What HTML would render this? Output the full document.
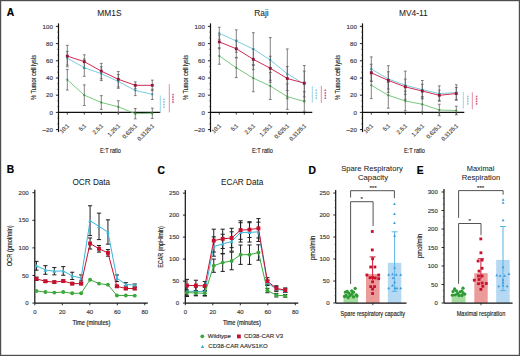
<!DOCTYPE html>
<html><head><meta charset="utf-8"><style>
html,body{margin:0;padding:0;background:#fff;}
#c{position:relative;width:520px;height:356px;overflow:hidden;}
svg{display:block;font-family:"Liberation Sans", sans-serif;}
</style></head><body><div id="c">
<svg width="520" height="356" viewBox="0 0 520 356">
<rect x="0" y="0" width="520" height="356" fill="#fff"/>
<text x="109.40" y="16.00" font-size="8.4" text-anchor="middle" fill="#222" stroke="#222" stroke-width="0.05">MM1S</text>
<line x1="58.50" y1="132.10" x2="58.50" y2="23.40" stroke="#111" stroke-width="1.2"/>
<line x1="55.90" y1="129.60" x2="58.50" y2="129.60" stroke="#111" stroke-width="0.9"/>
<text x="52.90" y="131.80" font-size="6.2" text-anchor="end" fill="#3a3a3a" stroke="#3a3a3a" stroke-width="0.15">&#8211;20</text>
<line x1="57.30" y1="123.87" x2="58.50" y2="123.87" stroke="#222" stroke-width="0.6"/>
<line x1="57.30" y1="118.13" x2="58.50" y2="118.13" stroke="#222" stroke-width="0.6"/>
<line x1="55.90" y1="112.40" x2="58.50" y2="112.40" stroke="#111" stroke-width="0.9"/>
<text x="52.90" y="114.60" font-size="6.2" text-anchor="end" fill="#3a3a3a" stroke="#3a3a3a" stroke-width="0.15">0</text>
<line x1="57.30" y1="106.67" x2="58.50" y2="106.67" stroke="#222" stroke-width="0.6"/>
<line x1="57.30" y1="100.93" x2="58.50" y2="100.93" stroke="#222" stroke-width="0.6"/>
<line x1="55.90" y1="95.20" x2="58.50" y2="95.20" stroke="#111" stroke-width="0.9"/>
<text x="52.90" y="97.40" font-size="6.2" text-anchor="end" fill="#3a3a3a" stroke="#3a3a3a" stroke-width="0.15">20</text>
<line x1="57.30" y1="89.47" x2="58.50" y2="89.47" stroke="#222" stroke-width="0.6"/>
<line x1="57.30" y1="83.73" x2="58.50" y2="83.73" stroke="#222" stroke-width="0.6"/>
<line x1="55.90" y1="78.00" x2="58.50" y2="78.00" stroke="#111" stroke-width="0.9"/>
<text x="52.90" y="80.20" font-size="6.2" text-anchor="end" fill="#3a3a3a" stroke="#3a3a3a" stroke-width="0.15">40</text>
<line x1="57.30" y1="72.27" x2="58.50" y2="72.27" stroke="#222" stroke-width="0.6"/>
<line x1="57.30" y1="66.53" x2="58.50" y2="66.53" stroke="#222" stroke-width="0.6"/>
<line x1="55.90" y1="60.80" x2="58.50" y2="60.80" stroke="#111" stroke-width="0.9"/>
<text x="52.90" y="63.00" font-size="6.2" text-anchor="end" fill="#3a3a3a" stroke="#3a3a3a" stroke-width="0.15">60</text>
<line x1="57.30" y1="55.07" x2="58.50" y2="55.07" stroke="#222" stroke-width="0.6"/>
<line x1="57.30" y1="49.33" x2="58.50" y2="49.33" stroke="#222" stroke-width="0.6"/>
<line x1="55.90" y1="43.60" x2="58.50" y2="43.60" stroke="#111" stroke-width="0.9"/>
<text x="52.90" y="45.80" font-size="6.2" text-anchor="end" fill="#3a3a3a" stroke="#3a3a3a" stroke-width="0.15">80</text>
<line x1="57.30" y1="37.87" x2="58.50" y2="37.87" stroke="#222" stroke-width="0.6"/>
<line x1="57.30" y1="32.13" x2="58.50" y2="32.13" stroke="#222" stroke-width="0.6"/>
<line x1="55.90" y1="26.40" x2="58.50" y2="26.40" stroke="#111" stroke-width="0.9"/>
<text x="52.90" y="28.60" font-size="6.2" text-anchor="end" fill="#3a3a3a" stroke="#3a3a3a" stroke-width="0.15">100</text>
<text x="36.30" y="77.50" font-size="7" text-anchor="middle" fill="#1a1a1a" textLength="45" lengthAdjust="spacingAndGlyphs" transform="rotate(-90 36.30 77.50)" stroke="#1a1a1a" stroke-width="0.15">% Tumor cell lysis</text>
<line x1="58.50" y1="112.40" x2="160.30" y2="112.40" stroke="#111" stroke-width="1.2"/>
<line x1="67.30" y1="112.40" x2="67.30" y2="114.60" stroke="#111" stroke-width="0.8"/>
<text x="69.60" y="126.30" font-size="6.0" text-anchor="end" fill="#3a3a3a" textLength="10.51" lengthAdjust="spacingAndGlyphs" transform="rotate(-45 69.60 126.30)" stroke="#3a3a3a" stroke-width="0.15">10:1</text>
<line x1="84.30" y1="112.40" x2="84.30" y2="114.60" stroke="#111" stroke-width="0.8"/>
<text x="86.60" y="126.30" font-size="6.0" text-anchor="end" fill="#3a3a3a" textLength="7.51" lengthAdjust="spacingAndGlyphs" transform="rotate(-45 86.60 126.30)" stroke="#3a3a3a" stroke-width="0.15">5:1</text>
<line x1="101.30" y1="112.40" x2="101.30" y2="114.60" stroke="#111" stroke-width="0.8"/>
<text x="103.60" y="126.30" font-size="6.0" text-anchor="end" fill="#3a3a3a" textLength="12.01" lengthAdjust="spacingAndGlyphs" transform="rotate(-45 103.60 126.30)" stroke="#3a3a3a" stroke-width="0.15">2.5:1</text>
<line x1="118.30" y1="112.40" x2="118.30" y2="114.60" stroke="#111" stroke-width="0.8"/>
<text x="120.60" y="126.30" font-size="6.0" text-anchor="end" fill="#3a3a3a" textLength="15.01" lengthAdjust="spacingAndGlyphs" transform="rotate(-45 120.60 126.30)" stroke="#3a3a3a" stroke-width="0.15">1.25:1</text>
<line x1="135.30" y1="112.40" x2="135.30" y2="114.60" stroke="#111" stroke-width="0.8"/>
<text x="137.60" y="126.30" font-size="6.0" text-anchor="end" fill="#3a3a3a" textLength="18.01" lengthAdjust="spacingAndGlyphs" transform="rotate(-45 137.60 126.30)" stroke="#3a3a3a" stroke-width="0.15">0.625:1</text>
<line x1="152.30" y1="112.40" x2="152.30" y2="114.60" stroke="#111" stroke-width="0.8"/>
<text x="154.60" y="126.30" font-size="6.0" text-anchor="end" fill="#3a3a3a" textLength="21.02" lengthAdjust="spacingAndGlyphs" transform="rotate(-45 154.60 126.30)" stroke="#3a3a3a" stroke-width="0.15">0.3125:1</text>
<text x="110.40" y="152.90" font-size="7.6" text-anchor="middle" fill="#1a1a1a" textLength="21" lengthAdjust="spacingAndGlyphs" stroke="#1a1a1a" stroke-width="0.15">E:T ratio</text>
<line x1="67.30" y1="45.32" x2="67.30" y2="66.82" stroke="#5a5a5a" stroke-width="0.75"/>
<line x1="65.90" y1="45.32" x2="68.70" y2="45.32" stroke="#5a5a5a" stroke-width="0.75"/>
<line x1="65.90" y1="66.82" x2="68.70" y2="66.82" stroke="#5a5a5a" stroke-width="0.75"/>
<line x1="67.30" y1="51.34" x2="67.30" y2="65.10" stroke="#5a5a5a" stroke-width="0.75"/>
<line x1="65.90" y1="51.34" x2="68.70" y2="51.34" stroke="#5a5a5a" stroke-width="0.75"/>
<line x1="65.90" y1="65.10" x2="68.70" y2="65.10" stroke="#5a5a5a" stroke-width="0.75"/>
<line x1="67.30" y1="69.40" x2="67.30" y2="90.04" stroke="#5a5a5a" stroke-width="0.75"/>
<line x1="65.90" y1="69.40" x2="68.70" y2="69.40" stroke="#5a5a5a" stroke-width="0.75"/>
<line x1="65.90" y1="90.04" x2="68.70" y2="90.04" stroke="#5a5a5a" stroke-width="0.75"/>
<line x1="84.30" y1="54.78" x2="84.30" y2="68.54" stroke="#5a5a5a" stroke-width="0.75"/>
<line x1="82.90" y1="54.78" x2="85.70" y2="54.78" stroke="#5a5a5a" stroke-width="0.75"/>
<line x1="82.90" y1="68.54" x2="85.70" y2="68.54" stroke="#5a5a5a" stroke-width="0.75"/>
<line x1="84.30" y1="59.08" x2="84.30" y2="76.28" stroke="#5a5a5a" stroke-width="0.75"/>
<line x1="82.90" y1="59.08" x2="85.70" y2="59.08" stroke="#5a5a5a" stroke-width="0.75"/>
<line x1="82.90" y1="76.28" x2="85.70" y2="76.28" stroke="#5a5a5a" stroke-width="0.75"/>
<line x1="84.30" y1="84.88" x2="84.30" y2="105.52" stroke="#5a5a5a" stroke-width="0.75"/>
<line x1="82.90" y1="84.88" x2="85.70" y2="84.88" stroke="#5a5a5a" stroke-width="0.75"/>
<line x1="82.90" y1="105.52" x2="85.70" y2="105.52" stroke="#5a5a5a" stroke-width="0.75"/>
<line x1="101.30" y1="63.38" x2="101.30" y2="78.86" stroke="#5a5a5a" stroke-width="0.75"/>
<line x1="99.90" y1="63.38" x2="102.70" y2="63.38" stroke="#5a5a5a" stroke-width="0.75"/>
<line x1="99.90" y1="78.86" x2="102.70" y2="78.86" stroke="#5a5a5a" stroke-width="0.75"/>
<line x1="101.30" y1="66.82" x2="101.30" y2="80.58" stroke="#5a5a5a" stroke-width="0.75"/>
<line x1="99.90" y1="66.82" x2="102.70" y2="66.82" stroke="#5a5a5a" stroke-width="0.75"/>
<line x1="99.90" y1="80.58" x2="102.70" y2="80.58" stroke="#5a5a5a" stroke-width="0.75"/>
<line x1="101.30" y1="95.63" x2="101.30" y2="109.39" stroke="#5a5a5a" stroke-width="0.75"/>
<line x1="99.90" y1="95.63" x2="102.70" y2="95.63" stroke="#5a5a5a" stroke-width="0.75"/>
<line x1="99.90" y1="109.39" x2="102.70" y2="109.39" stroke="#5a5a5a" stroke-width="0.75"/>
<line x1="118.30" y1="71.55" x2="118.30" y2="87.03" stroke="#5a5a5a" stroke-width="0.75"/>
<line x1="116.90" y1="71.55" x2="119.70" y2="71.55" stroke="#5a5a5a" stroke-width="0.75"/>
<line x1="116.90" y1="87.03" x2="119.70" y2="87.03" stroke="#5a5a5a" stroke-width="0.75"/>
<line x1="118.30" y1="74.56" x2="118.30" y2="88.32" stroke="#5a5a5a" stroke-width="0.75"/>
<line x1="116.90" y1="74.56" x2="119.70" y2="74.56" stroke="#5a5a5a" stroke-width="0.75"/>
<line x1="116.90" y1="88.32" x2="119.70" y2="88.32" stroke="#5a5a5a" stroke-width="0.75"/>
<line x1="118.30" y1="100.79" x2="118.30" y2="112.83" stroke="#5a5a5a" stroke-width="0.75"/>
<line x1="116.90" y1="100.79" x2="119.70" y2="100.79" stroke="#5a5a5a" stroke-width="0.75"/>
<line x1="116.90" y1="112.83" x2="119.70" y2="112.83" stroke="#5a5a5a" stroke-width="0.75"/>
<line x1="135.30" y1="81.87" x2="135.30" y2="88.75" stroke="#5a5a5a" stroke-width="0.75"/>
<line x1="133.90" y1="81.87" x2="136.70" y2="81.87" stroke="#5a5a5a" stroke-width="0.75"/>
<line x1="133.90" y1="88.75" x2="136.70" y2="88.75" stroke="#5a5a5a" stroke-width="0.75"/>
<line x1="135.30" y1="85.31" x2="135.30" y2="95.63" stroke="#5a5a5a" stroke-width="0.75"/>
<line x1="133.90" y1="85.31" x2="136.70" y2="85.31" stroke="#5a5a5a" stroke-width="0.75"/>
<line x1="133.90" y1="95.63" x2="136.70" y2="95.63" stroke="#5a5a5a" stroke-width="0.75"/>
<line x1="135.30" y1="108.53" x2="135.30" y2="118.85" stroke="#5a5a5a" stroke-width="0.75"/>
<line x1="133.90" y1="108.53" x2="136.70" y2="108.53" stroke="#5a5a5a" stroke-width="0.75"/>
<line x1="133.90" y1="118.85" x2="136.70" y2="118.85" stroke="#5a5a5a" stroke-width="0.75"/>
<line x1="152.30" y1="80.15" x2="152.30" y2="90.47" stroke="#5a5a5a" stroke-width="0.75"/>
<line x1="150.90" y1="80.15" x2="153.70" y2="80.15" stroke="#5a5a5a" stroke-width="0.75"/>
<line x1="150.90" y1="90.47" x2="153.70" y2="90.47" stroke="#5a5a5a" stroke-width="0.75"/>
<line x1="152.30" y1="89.18" x2="152.30" y2="99.50" stroke="#5a5a5a" stroke-width="0.75"/>
<line x1="150.90" y1="89.18" x2="153.70" y2="89.18" stroke="#5a5a5a" stroke-width="0.75"/>
<line x1="150.90" y1="99.50" x2="153.70" y2="99.50" stroke="#5a5a5a" stroke-width="0.75"/>
<line x1="152.30" y1="108.10" x2="152.30" y2="118.42" stroke="#5a5a5a" stroke-width="0.75"/>
<line x1="150.90" y1="108.10" x2="153.70" y2="108.10" stroke="#5a5a5a" stroke-width="0.75"/>
<line x1="150.90" y1="118.42" x2="153.70" y2="118.42" stroke="#5a5a5a" stroke-width="0.75"/>
<polyline points="67.30,79.72 84.30,95.20 101.30,102.51 118.30,106.81 135.30,113.69 152.30,113.26" fill="none" stroke="#6cc070" stroke-width="0.9" stroke-linejoin="round"/>
<polyline points="67.30,58.22 84.30,67.68 101.30,73.70 118.30,81.44 135.30,90.47 152.30,94.34" fill="none" stroke="#6cc6dc" stroke-width="0.9" stroke-linejoin="round"/>
<polyline points="67.30,56.07 84.30,61.66 101.30,71.12 118.30,79.29 135.30,85.31 152.30,85.31" fill="none" stroke="#d42a52" stroke-width="1.0" stroke-linejoin="round"/>
<rect x="66.40" y="78.82" width="1.8" height="1.8" fill="#3d8a42"/>
<rect x="83.40" y="94.30" width="1.8" height="1.8" fill="#3d8a42"/>
<rect x="100.40" y="101.61" width="1.8" height="1.8" fill="#3d8a42"/>
<rect x="117.40" y="105.91" width="1.8" height="1.8" fill="#3d8a42"/>
<rect x="134.40" y="112.79" width="1.8" height="1.8" fill="#3d8a42"/>
<rect x="151.40" y="112.36" width="1.8" height="1.8" fill="#3d8a42"/>
<rect x="66.40" y="57.32" width="1.8" height="1.8" fill="#2f7f93"/>
<rect x="83.40" y="66.78" width="1.8" height="1.8" fill="#2f7f93"/>
<rect x="100.40" y="72.80" width="1.8" height="1.8" fill="#2f7f93"/>
<rect x="117.40" y="80.54" width="1.8" height="1.8" fill="#2f7f93"/>
<rect x="134.40" y="89.57" width="1.8" height="1.8" fill="#2f7f93"/>
<rect x="151.40" y="93.44" width="1.8" height="1.8" fill="#2f7f93"/>
<rect x="65.90" y="54.67" width="2.8" height="2.8" fill="#8e1538"/>
<rect x="82.90" y="60.26" width="2.8" height="2.8" fill="#8e1538"/>
<rect x="99.90" y="69.72" width="2.8" height="2.8" fill="#8e1538"/>
<rect x="116.90" y="77.89" width="2.8" height="2.8" fill="#8e1538"/>
<rect x="133.90" y="83.91" width="2.8" height="2.8" fill="#8e1538"/>
<rect x="150.90" y="83.91" width="2.8" height="2.8" fill="#8e1538"/>
<line x1="160.30" y1="95.50" x2="160.30" y2="112.40" stroke="#9ad6ea" stroke-width="1.0"/>
<line x1="169.30" y1="84.20" x2="169.30" y2="112.40" stroke="#e68aa2" stroke-width="1.0"/>
<rect x="163.20" y="98.51" width="1.6" height="1.6" fill="#8fc6d8"/>
<rect x="163.20" y="101.14" width="1.6" height="1.6" fill="#8fc6d8"/>
<rect x="163.20" y="103.76" width="1.6" height="1.6" fill="#8fc6d8"/>
<rect x="163.20" y="106.39" width="1.6" height="1.6" fill="#8fc6d8"/>
<rect x="172.20" y="93.75" width="1.6" height="1.6" fill="#d05a7c"/>
<rect x="172.20" y="96.25" width="1.6" height="1.6" fill="#d05a7c"/>
<rect x="172.20" y="98.75" width="1.6" height="1.6" fill="#d05a7c"/>
<rect x="172.20" y="101.25" width="1.6" height="1.6" fill="#d05a7c"/>
<text x="261.40" y="16.00" font-size="8.4" text-anchor="middle" fill="#222" stroke="#222" stroke-width="0.05">Raji</text>
<line x1="210.50" y1="132.10" x2="210.50" y2="23.40" stroke="#111" stroke-width="1.2"/>
<line x1="207.90" y1="129.60" x2="210.50" y2="129.60" stroke="#111" stroke-width="0.9"/>
<text x="204.90" y="131.80" font-size="6.2" text-anchor="end" fill="#3a3a3a" stroke="#3a3a3a" stroke-width="0.15">&#8211;20</text>
<line x1="209.30" y1="123.87" x2="210.50" y2="123.87" stroke="#222" stroke-width="0.6"/>
<line x1="209.30" y1="118.13" x2="210.50" y2="118.13" stroke="#222" stroke-width="0.6"/>
<line x1="207.90" y1="112.40" x2="210.50" y2="112.40" stroke="#111" stroke-width="0.9"/>
<text x="204.90" y="114.60" font-size="6.2" text-anchor="end" fill="#3a3a3a" stroke="#3a3a3a" stroke-width="0.15">0</text>
<line x1="209.30" y1="106.67" x2="210.50" y2="106.67" stroke="#222" stroke-width="0.6"/>
<line x1="209.30" y1="100.93" x2="210.50" y2="100.93" stroke="#222" stroke-width="0.6"/>
<line x1="207.90" y1="95.20" x2="210.50" y2="95.20" stroke="#111" stroke-width="0.9"/>
<text x="204.90" y="97.40" font-size="6.2" text-anchor="end" fill="#3a3a3a" stroke="#3a3a3a" stroke-width="0.15">20</text>
<line x1="209.30" y1="89.47" x2="210.50" y2="89.47" stroke="#222" stroke-width="0.6"/>
<line x1="209.30" y1="83.73" x2="210.50" y2="83.73" stroke="#222" stroke-width="0.6"/>
<line x1="207.90" y1="78.00" x2="210.50" y2="78.00" stroke="#111" stroke-width="0.9"/>
<text x="204.90" y="80.20" font-size="6.2" text-anchor="end" fill="#3a3a3a" stroke="#3a3a3a" stroke-width="0.15">40</text>
<line x1="209.30" y1="72.27" x2="210.50" y2="72.27" stroke="#222" stroke-width="0.6"/>
<line x1="209.30" y1="66.53" x2="210.50" y2="66.53" stroke="#222" stroke-width="0.6"/>
<line x1="207.90" y1="60.80" x2="210.50" y2="60.80" stroke="#111" stroke-width="0.9"/>
<text x="204.90" y="63.00" font-size="6.2" text-anchor="end" fill="#3a3a3a" stroke="#3a3a3a" stroke-width="0.15">60</text>
<line x1="209.30" y1="55.07" x2="210.50" y2="55.07" stroke="#222" stroke-width="0.6"/>
<line x1="209.30" y1="49.33" x2="210.50" y2="49.33" stroke="#222" stroke-width="0.6"/>
<line x1="207.90" y1="43.60" x2="210.50" y2="43.60" stroke="#111" stroke-width="0.9"/>
<text x="204.90" y="45.80" font-size="6.2" text-anchor="end" fill="#3a3a3a" stroke="#3a3a3a" stroke-width="0.15">80</text>
<line x1="209.30" y1="37.87" x2="210.50" y2="37.87" stroke="#222" stroke-width="0.6"/>
<line x1="209.30" y1="32.13" x2="210.50" y2="32.13" stroke="#222" stroke-width="0.6"/>
<line x1="207.90" y1="26.40" x2="210.50" y2="26.40" stroke="#111" stroke-width="0.9"/>
<text x="204.90" y="28.60" font-size="6.2" text-anchor="end" fill="#3a3a3a" stroke="#3a3a3a" stroke-width="0.15">100</text>
<text x="188.30" y="77.50" font-size="7" text-anchor="middle" fill="#1a1a1a" textLength="45" lengthAdjust="spacingAndGlyphs" transform="rotate(-90 188.30 77.50)" stroke="#1a1a1a" stroke-width="0.15">% Tumor cell lysis</text>
<line x1="210.50" y1="112.40" x2="312.30" y2="112.40" stroke="#111" stroke-width="1.2"/>
<line x1="219.30" y1="112.40" x2="219.30" y2="114.60" stroke="#111" stroke-width="0.8"/>
<text x="221.60" y="126.30" font-size="6.0" text-anchor="end" fill="#3a3a3a" textLength="10.51" lengthAdjust="spacingAndGlyphs" transform="rotate(-45 221.60 126.30)" stroke="#3a3a3a" stroke-width="0.15">10:1</text>
<line x1="236.30" y1="112.40" x2="236.30" y2="114.60" stroke="#111" stroke-width="0.8"/>
<text x="238.60" y="126.30" font-size="6.0" text-anchor="end" fill="#3a3a3a" textLength="7.51" lengthAdjust="spacingAndGlyphs" transform="rotate(-45 238.60 126.30)" stroke="#3a3a3a" stroke-width="0.15">5:1</text>
<line x1="253.30" y1="112.40" x2="253.30" y2="114.60" stroke="#111" stroke-width="0.8"/>
<text x="255.60" y="126.30" font-size="6.0" text-anchor="end" fill="#3a3a3a" textLength="12.01" lengthAdjust="spacingAndGlyphs" transform="rotate(-45 255.60 126.30)" stroke="#3a3a3a" stroke-width="0.15">2.5:1</text>
<line x1="270.30" y1="112.40" x2="270.30" y2="114.60" stroke="#111" stroke-width="0.8"/>
<text x="272.60" y="126.30" font-size="6.0" text-anchor="end" fill="#3a3a3a" textLength="15.01" lengthAdjust="spacingAndGlyphs" transform="rotate(-45 272.60 126.30)" stroke="#3a3a3a" stroke-width="0.15">1.25:1</text>
<line x1="287.30" y1="112.40" x2="287.30" y2="114.60" stroke="#111" stroke-width="0.8"/>
<text x="289.60" y="126.30" font-size="6.0" text-anchor="end" fill="#3a3a3a" textLength="18.01" lengthAdjust="spacingAndGlyphs" transform="rotate(-45 289.60 126.30)" stroke="#3a3a3a" stroke-width="0.15">0.625:1</text>
<line x1="304.30" y1="112.40" x2="304.30" y2="114.60" stroke="#111" stroke-width="0.8"/>
<text x="306.60" y="126.30" font-size="6.0" text-anchor="end" fill="#3a3a3a" textLength="21.02" lengthAdjust="spacingAndGlyphs" transform="rotate(-45 306.60 126.30)" stroke="#3a3a3a" stroke-width="0.15">0.3125:1</text>
<text x="262.40" y="152.90" font-size="7.6" text-anchor="middle" fill="#1a1a1a" textLength="21" lengthAdjust="spacingAndGlyphs" stroke="#1a1a1a" stroke-width="0.15">E:T ratio</text>
<line x1="219.30" y1="35.00" x2="219.30" y2="48.76" stroke="#5a5a5a" stroke-width="0.75"/>
<line x1="217.90" y1="35.00" x2="220.70" y2="35.00" stroke="#5a5a5a" stroke-width="0.75"/>
<line x1="217.90" y1="48.76" x2="220.70" y2="48.76" stroke="#5a5a5a" stroke-width="0.75"/>
<line x1="219.30" y1="27.26" x2="219.30" y2="39.30" stroke="#5a5a5a" stroke-width="0.75"/>
<line x1="217.90" y1="27.26" x2="220.70" y2="27.26" stroke="#5a5a5a" stroke-width="0.75"/>
<line x1="217.90" y1="39.30" x2="220.70" y2="39.30" stroke="#5a5a5a" stroke-width="0.75"/>
<line x1="219.30" y1="47.73" x2="219.30" y2="64.24" stroke="#5a5a5a" stroke-width="0.75"/>
<line x1="217.90" y1="47.73" x2="220.70" y2="47.73" stroke="#5a5a5a" stroke-width="0.75"/>
<line x1="217.90" y1="64.24" x2="220.70" y2="64.24" stroke="#5a5a5a" stroke-width="0.75"/>
<line x1="236.30" y1="40.16" x2="236.30" y2="57.36" stroke="#5a5a5a" stroke-width="0.75"/>
<line x1="234.90" y1="40.16" x2="237.70" y2="40.16" stroke="#5a5a5a" stroke-width="0.75"/>
<line x1="234.90" y1="57.36" x2="237.70" y2="57.36" stroke="#5a5a5a" stroke-width="0.75"/>
<line x1="236.30" y1="29.84" x2="236.30" y2="52.20" stroke="#5a5a5a" stroke-width="0.75"/>
<line x1="234.90" y1="29.84" x2="237.70" y2="29.84" stroke="#5a5a5a" stroke-width="0.75"/>
<line x1="234.90" y1="52.20" x2="237.70" y2="52.20" stroke="#5a5a5a" stroke-width="0.75"/>
<line x1="236.30" y1="57.96" x2="236.30" y2="77.57" stroke="#5a5a5a" stroke-width="0.75"/>
<line x1="234.90" y1="57.96" x2="237.70" y2="57.96" stroke="#5a5a5a" stroke-width="0.75"/>
<line x1="234.90" y1="77.57" x2="237.70" y2="77.57" stroke="#5a5a5a" stroke-width="0.75"/>
<line x1="253.30" y1="49.02" x2="253.30" y2="69.66" stroke="#5a5a5a" stroke-width="0.75"/>
<line x1="251.90" y1="49.02" x2="254.70" y2="49.02" stroke="#5a5a5a" stroke-width="0.75"/>
<line x1="251.90" y1="69.66" x2="254.70" y2="69.66" stroke="#5a5a5a" stroke-width="0.75"/>
<line x1="253.30" y1="32.68" x2="253.30" y2="65.36" stroke="#5a5a5a" stroke-width="0.75"/>
<line x1="251.90" y1="32.68" x2="254.70" y2="32.68" stroke="#5a5a5a" stroke-width="0.75"/>
<line x1="251.90" y1="65.36" x2="254.70" y2="65.36" stroke="#5a5a5a" stroke-width="0.75"/>
<line x1="253.30" y1="64.58" x2="253.30" y2="91.76" stroke="#5a5a5a" stroke-width="0.75"/>
<line x1="251.90" y1="64.58" x2="254.70" y2="64.58" stroke="#5a5a5a" stroke-width="0.75"/>
<line x1="251.90" y1="91.76" x2="254.70" y2="91.76" stroke="#5a5a5a" stroke-width="0.75"/>
<line x1="270.30" y1="56.24" x2="270.30" y2="80.32" stroke="#5a5a5a" stroke-width="0.75"/>
<line x1="268.90" y1="56.24" x2="271.70" y2="56.24" stroke="#5a5a5a" stroke-width="0.75"/>
<line x1="268.90" y1="80.32" x2="271.70" y2="80.32" stroke="#5a5a5a" stroke-width="0.75"/>
<line x1="270.30" y1="37.58" x2="270.30" y2="82.30" stroke="#5a5a5a" stroke-width="0.75"/>
<line x1="268.90" y1="37.58" x2="271.70" y2="37.58" stroke="#5a5a5a" stroke-width="0.75"/>
<line x1="268.90" y1="82.30" x2="271.70" y2="82.30" stroke="#5a5a5a" stroke-width="0.75"/>
<line x1="270.30" y1="72.50" x2="270.30" y2="99.50" stroke="#5a5a5a" stroke-width="0.75"/>
<line x1="268.90" y1="72.50" x2="271.70" y2="72.50" stroke="#5a5a5a" stroke-width="0.75"/>
<line x1="268.90" y1="99.50" x2="271.70" y2="99.50" stroke="#5a5a5a" stroke-width="0.75"/>
<line x1="287.30" y1="66.48" x2="287.30" y2="90.56" stroke="#5a5a5a" stroke-width="0.75"/>
<line x1="285.90" y1="66.48" x2="288.70" y2="66.48" stroke="#5a5a5a" stroke-width="0.75"/>
<line x1="285.90" y1="90.56" x2="288.70" y2="90.56" stroke="#5a5a5a" stroke-width="0.75"/>
<line x1="287.30" y1="48.93" x2="287.30" y2="98.81" stroke="#5a5a5a" stroke-width="0.75"/>
<line x1="285.90" y1="48.93" x2="288.70" y2="48.93" stroke="#5a5a5a" stroke-width="0.75"/>
<line x1="285.90" y1="98.81" x2="288.70" y2="98.81" stroke="#5a5a5a" stroke-width="0.75"/>
<line x1="287.30" y1="83.93" x2="287.30" y2="109.39" stroke="#5a5a5a" stroke-width="0.75"/>
<line x1="285.90" y1="83.93" x2="288.70" y2="83.93" stroke="#5a5a5a" stroke-width="0.75"/>
<line x1="285.90" y1="109.39" x2="288.70" y2="109.39" stroke="#5a5a5a" stroke-width="0.75"/>
<line x1="304.30" y1="65.53" x2="304.30" y2="100.79" stroke="#5a5a5a" stroke-width="0.75"/>
<line x1="302.90" y1="65.53" x2="305.70" y2="65.53" stroke="#5a5a5a" stroke-width="0.75"/>
<line x1="302.90" y1="100.79" x2="305.70" y2="100.79" stroke="#5a5a5a" stroke-width="0.75"/>
<line x1="304.30" y1="71.12" x2="304.30" y2="96.92" stroke="#5a5a5a" stroke-width="0.75"/>
<line x1="302.90" y1="71.12" x2="305.70" y2="71.12" stroke="#5a5a5a" stroke-width="0.75"/>
<line x1="302.90" y1="96.92" x2="305.70" y2="96.92" stroke="#5a5a5a" stroke-width="0.75"/>
<line x1="304.30" y1="91.67" x2="304.30" y2="111.28" stroke="#5a5a5a" stroke-width="0.75"/>
<line x1="302.90" y1="91.67" x2="305.70" y2="91.67" stroke="#5a5a5a" stroke-width="0.75"/>
<line x1="302.90" y1="111.28" x2="305.70" y2="111.28" stroke="#5a5a5a" stroke-width="0.75"/>
<polyline points="219.30,55.98 236.30,67.77 253.30,78.17 270.30,86.00 287.30,96.66 304.30,101.48" fill="none" stroke="#6cc070" stroke-width="0.9" stroke-linejoin="round"/>
<polyline points="219.30,33.28 236.30,41.02 253.30,49.02 270.30,59.94 287.30,73.87 304.30,84.02" fill="none" stroke="#6cc6dc" stroke-width="0.9" stroke-linejoin="round"/>
<polyline points="219.30,41.88 236.30,48.76 253.30,59.34 270.30,68.28 287.30,78.52 304.30,83.16" fill="none" stroke="#d42a52" stroke-width="1.0" stroke-linejoin="round"/>
<rect x="218.40" y="55.08" width="1.8" height="1.8" fill="#3d8a42"/>
<rect x="235.40" y="66.87" width="1.8" height="1.8" fill="#3d8a42"/>
<rect x="252.40" y="77.27" width="1.8" height="1.8" fill="#3d8a42"/>
<rect x="269.40" y="85.10" width="1.8" height="1.8" fill="#3d8a42"/>
<rect x="286.40" y="95.76" width="1.8" height="1.8" fill="#3d8a42"/>
<rect x="303.40" y="100.58" width="1.8" height="1.8" fill="#3d8a42"/>
<rect x="218.40" y="32.38" width="1.8" height="1.8" fill="#2f7f93"/>
<rect x="235.40" y="40.12" width="1.8" height="1.8" fill="#2f7f93"/>
<rect x="252.40" y="48.12" width="1.8" height="1.8" fill="#2f7f93"/>
<rect x="269.40" y="59.04" width="1.8" height="1.8" fill="#2f7f93"/>
<rect x="286.40" y="72.97" width="1.8" height="1.8" fill="#2f7f93"/>
<rect x="303.40" y="83.12" width="1.8" height="1.8" fill="#2f7f93"/>
<rect x="217.90" y="40.48" width="2.8" height="2.8" fill="#8e1538"/>
<rect x="234.90" y="47.36" width="2.8" height="2.8" fill="#8e1538"/>
<rect x="251.90" y="57.94" width="2.8" height="2.8" fill="#8e1538"/>
<rect x="268.90" y="66.88" width="2.8" height="2.8" fill="#8e1538"/>
<rect x="285.90" y="77.12" width="2.8" height="2.8" fill="#8e1538"/>
<rect x="302.90" y="81.76" width="2.8" height="2.8" fill="#8e1538"/>
<line x1="312.30" y1="86.00" x2="312.30" y2="102.60" stroke="#9ad6ea" stroke-width="1.0"/>
<line x1="321.30" y1="85.70" x2="321.30" y2="103.00" stroke="#e68aa2" stroke-width="1.0"/>
<rect x="315.50" y="89.51" width="1.6" height="1.6" fill="#8fc6d8"/>
<rect x="315.50" y="92.14" width="1.6" height="1.6" fill="#8fc6d8"/>
<rect x="315.50" y="94.76" width="1.6" height="1.6" fill="#8fc6d8"/>
<rect x="315.50" y="97.39" width="1.6" height="1.6" fill="#8fc6d8"/>
<rect x="324.50" y="89.51" width="1.6" height="1.6" fill="#d05a7c"/>
<rect x="324.50" y="92.14" width="1.6" height="1.6" fill="#d05a7c"/>
<rect x="324.50" y="94.76" width="1.6" height="1.6" fill="#d05a7c"/>
<rect x="324.50" y="97.39" width="1.6" height="1.6" fill="#d05a7c"/>
<text x="413.40" y="16.00" font-size="8.4" text-anchor="middle" fill="#222" stroke="#222" stroke-width="0.05">MV4-11</text>
<line x1="362.50" y1="132.10" x2="362.50" y2="23.40" stroke="#111" stroke-width="1.2"/>
<line x1="359.90" y1="129.60" x2="362.50" y2="129.60" stroke="#111" stroke-width="0.9"/>
<text x="356.90" y="131.80" font-size="6.2" text-anchor="end" fill="#3a3a3a" stroke="#3a3a3a" stroke-width="0.15">&#8211;20</text>
<line x1="361.30" y1="123.87" x2="362.50" y2="123.87" stroke="#222" stroke-width="0.6"/>
<line x1="361.30" y1="118.13" x2="362.50" y2="118.13" stroke="#222" stroke-width="0.6"/>
<line x1="359.90" y1="112.40" x2="362.50" y2="112.40" stroke="#111" stroke-width="0.9"/>
<text x="356.90" y="114.60" font-size="6.2" text-anchor="end" fill="#3a3a3a" stroke="#3a3a3a" stroke-width="0.15">0</text>
<line x1="361.30" y1="106.67" x2="362.50" y2="106.67" stroke="#222" stroke-width="0.6"/>
<line x1="361.30" y1="100.93" x2="362.50" y2="100.93" stroke="#222" stroke-width="0.6"/>
<line x1="359.90" y1="95.20" x2="362.50" y2="95.20" stroke="#111" stroke-width="0.9"/>
<text x="356.90" y="97.40" font-size="6.2" text-anchor="end" fill="#3a3a3a" stroke="#3a3a3a" stroke-width="0.15">20</text>
<line x1="361.30" y1="89.47" x2="362.50" y2="89.47" stroke="#222" stroke-width="0.6"/>
<line x1="361.30" y1="83.73" x2="362.50" y2="83.73" stroke="#222" stroke-width="0.6"/>
<line x1="359.90" y1="78.00" x2="362.50" y2="78.00" stroke="#111" stroke-width="0.9"/>
<text x="356.90" y="80.20" font-size="6.2" text-anchor="end" fill="#3a3a3a" stroke="#3a3a3a" stroke-width="0.15">40</text>
<line x1="361.30" y1="72.27" x2="362.50" y2="72.27" stroke="#222" stroke-width="0.6"/>
<line x1="361.30" y1="66.53" x2="362.50" y2="66.53" stroke="#222" stroke-width="0.6"/>
<line x1="359.90" y1="60.80" x2="362.50" y2="60.80" stroke="#111" stroke-width="0.9"/>
<text x="356.90" y="63.00" font-size="6.2" text-anchor="end" fill="#3a3a3a" stroke="#3a3a3a" stroke-width="0.15">60</text>
<line x1="361.30" y1="55.07" x2="362.50" y2="55.07" stroke="#222" stroke-width="0.6"/>
<line x1="361.30" y1="49.33" x2="362.50" y2="49.33" stroke="#222" stroke-width="0.6"/>
<line x1="359.90" y1="43.60" x2="362.50" y2="43.60" stroke="#111" stroke-width="0.9"/>
<text x="356.90" y="45.80" font-size="6.2" text-anchor="end" fill="#3a3a3a" stroke="#3a3a3a" stroke-width="0.15">80</text>
<line x1="361.30" y1="37.87" x2="362.50" y2="37.87" stroke="#222" stroke-width="0.6"/>
<line x1="361.30" y1="32.13" x2="362.50" y2="32.13" stroke="#222" stroke-width="0.6"/>
<line x1="359.90" y1="26.40" x2="362.50" y2="26.40" stroke="#111" stroke-width="0.9"/>
<text x="356.90" y="28.60" font-size="6.2" text-anchor="end" fill="#3a3a3a" stroke="#3a3a3a" stroke-width="0.15">100</text>
<text x="340.30" y="77.50" font-size="7" text-anchor="middle" fill="#1a1a1a" textLength="45" lengthAdjust="spacingAndGlyphs" transform="rotate(-90 340.30 77.50)" stroke="#1a1a1a" stroke-width="0.15">% Tumor cell lysis</text>
<line x1="362.50" y1="112.40" x2="464.30" y2="112.40" stroke="#111" stroke-width="1.2"/>
<line x1="371.30" y1="112.40" x2="371.30" y2="114.60" stroke="#111" stroke-width="0.8"/>
<text x="373.60" y="126.30" font-size="6.0" text-anchor="end" fill="#3a3a3a" textLength="10.51" lengthAdjust="spacingAndGlyphs" transform="rotate(-45 373.60 126.30)" stroke="#3a3a3a" stroke-width="0.15">10:1</text>
<line x1="388.30" y1="112.40" x2="388.30" y2="114.60" stroke="#111" stroke-width="0.8"/>
<text x="390.60" y="126.30" font-size="6.0" text-anchor="end" fill="#3a3a3a" textLength="7.51" lengthAdjust="spacingAndGlyphs" transform="rotate(-45 390.60 126.30)" stroke="#3a3a3a" stroke-width="0.15">5:1</text>
<line x1="405.30" y1="112.40" x2="405.30" y2="114.60" stroke="#111" stroke-width="0.8"/>
<text x="407.60" y="126.30" font-size="6.0" text-anchor="end" fill="#3a3a3a" textLength="12.01" lengthAdjust="spacingAndGlyphs" transform="rotate(-45 407.60 126.30)" stroke="#3a3a3a" stroke-width="0.15">2.5:1</text>
<line x1="422.30" y1="112.40" x2="422.30" y2="114.60" stroke="#111" stroke-width="0.8"/>
<text x="424.60" y="126.30" font-size="6.0" text-anchor="end" fill="#3a3a3a" textLength="15.01" lengthAdjust="spacingAndGlyphs" transform="rotate(-45 424.60 126.30)" stroke="#3a3a3a" stroke-width="0.15">1.25:1</text>
<line x1="439.30" y1="112.40" x2="439.30" y2="114.60" stroke="#111" stroke-width="0.8"/>
<text x="441.60" y="126.30" font-size="6.0" text-anchor="end" fill="#3a3a3a" textLength="18.01" lengthAdjust="spacingAndGlyphs" transform="rotate(-45 441.60 126.30)" stroke="#3a3a3a" stroke-width="0.15">0.625:1</text>
<line x1="456.30" y1="112.40" x2="456.30" y2="114.60" stroke="#111" stroke-width="0.8"/>
<text x="458.60" y="126.30" font-size="6.0" text-anchor="end" fill="#3a3a3a" textLength="21.02" lengthAdjust="spacingAndGlyphs" transform="rotate(-45 458.60 126.30)" stroke="#3a3a3a" stroke-width="0.15">0.3125:1</text>
<text x="414.40" y="152.90" font-size="7.6" text-anchor="middle" fill="#1a1a1a" textLength="21" lengthAdjust="spacingAndGlyphs" stroke="#1a1a1a" stroke-width="0.15">E:T ratio</text>
<line x1="371.30" y1="64.24" x2="371.30" y2="81.44" stroke="#5a5a5a" stroke-width="0.75"/>
<line x1="369.90" y1="64.24" x2="372.70" y2="64.24" stroke="#5a5a5a" stroke-width="0.75"/>
<line x1="369.90" y1="81.44" x2="372.70" y2="81.44" stroke="#5a5a5a" stroke-width="0.75"/>
<line x1="371.30" y1="56.93" x2="371.30" y2="81.01" stroke="#5a5a5a" stroke-width="0.75"/>
<line x1="369.90" y1="56.93" x2="372.70" y2="56.93" stroke="#5a5a5a" stroke-width="0.75"/>
<line x1="369.90" y1="81.01" x2="372.70" y2="81.01" stroke="#5a5a5a" stroke-width="0.75"/>
<line x1="371.30" y1="71.81" x2="371.30" y2="98.64" stroke="#5a5a5a" stroke-width="0.75"/>
<line x1="369.90" y1="71.81" x2="372.70" y2="71.81" stroke="#5a5a5a" stroke-width="0.75"/>
<line x1="369.90" y1="98.64" x2="372.70" y2="98.64" stroke="#5a5a5a" stroke-width="0.75"/>
<line x1="388.30" y1="71.81" x2="388.30" y2="89.01" stroke="#5a5a5a" stroke-width="0.75"/>
<line x1="386.90" y1="71.81" x2="389.70" y2="71.81" stroke="#5a5a5a" stroke-width="0.75"/>
<line x1="386.90" y1="89.01" x2="389.70" y2="89.01" stroke="#5a5a5a" stroke-width="0.75"/>
<line x1="388.30" y1="65.70" x2="388.30" y2="92.36" stroke="#5a5a5a" stroke-width="0.75"/>
<line x1="386.90" y1="65.70" x2="389.70" y2="65.70" stroke="#5a5a5a" stroke-width="0.75"/>
<line x1="386.90" y1="92.36" x2="389.70" y2="92.36" stroke="#5a5a5a" stroke-width="0.75"/>
<line x1="388.30" y1="82.39" x2="388.30" y2="108.19" stroke="#5a5a5a" stroke-width="0.75"/>
<line x1="386.90" y1="82.39" x2="389.70" y2="82.39" stroke="#5a5a5a" stroke-width="0.75"/>
<line x1="386.90" y1="108.19" x2="389.70" y2="108.19" stroke="#5a5a5a" stroke-width="0.75"/>
<line x1="405.30" y1="79.12" x2="405.30" y2="94.60" stroke="#5a5a5a" stroke-width="0.75"/>
<line x1="403.90" y1="79.12" x2="406.70" y2="79.12" stroke="#5a5a5a" stroke-width="0.75"/>
<line x1="403.90" y1="94.60" x2="406.70" y2="94.60" stroke="#5a5a5a" stroke-width="0.75"/>
<line x1="405.30" y1="71.12" x2="405.30" y2="99.33" stroke="#5a5a5a" stroke-width="0.75"/>
<line x1="403.90" y1="71.12" x2="406.70" y2="71.12" stroke="#5a5a5a" stroke-width="0.75"/>
<line x1="403.90" y1="99.33" x2="406.70" y2="99.33" stroke="#5a5a5a" stroke-width="0.75"/>
<line x1="405.30" y1="91.07" x2="405.30" y2="110.85" stroke="#5a5a5a" stroke-width="0.75"/>
<line x1="403.90" y1="91.07" x2="406.70" y2="91.07" stroke="#5a5a5a" stroke-width="0.75"/>
<line x1="403.90" y1="110.85" x2="406.70" y2="110.85" stroke="#5a5a5a" stroke-width="0.75"/>
<line x1="422.30" y1="84.19" x2="422.30" y2="97.95" stroke="#5a5a5a" stroke-width="0.75"/>
<line x1="420.90" y1="84.19" x2="423.70" y2="84.19" stroke="#5a5a5a" stroke-width="0.75"/>
<line x1="420.90" y1="97.95" x2="423.70" y2="97.95" stroke="#5a5a5a" stroke-width="0.75"/>
<line x1="422.30" y1="80.49" x2="422.30" y2="98.90" stroke="#5a5a5a" stroke-width="0.75"/>
<line x1="420.90" y1="80.49" x2="423.70" y2="80.49" stroke="#5a5a5a" stroke-width="0.75"/>
<line x1="420.90" y1="98.90" x2="423.70" y2="98.90" stroke="#5a5a5a" stroke-width="0.75"/>
<line x1="422.30" y1="96.58" x2="422.30" y2="112.06" stroke="#5a5a5a" stroke-width="0.75"/>
<line x1="420.90" y1="96.58" x2="423.70" y2="96.58" stroke="#5a5a5a" stroke-width="0.75"/>
<line x1="420.90" y1="112.06" x2="423.70" y2="112.06" stroke="#5a5a5a" stroke-width="0.75"/>
<line x1="439.30" y1="90.13" x2="439.30" y2="100.45" stroke="#5a5a5a" stroke-width="0.75"/>
<line x1="437.90" y1="90.13" x2="440.70" y2="90.13" stroke="#5a5a5a" stroke-width="0.75"/>
<line x1="437.90" y1="100.45" x2="440.70" y2="100.45" stroke="#5a5a5a" stroke-width="0.75"/>
<line x1="439.30" y1="85.83" x2="439.30" y2="101.31" stroke="#5a5a5a" stroke-width="0.75"/>
<line x1="437.90" y1="85.83" x2="440.70" y2="85.83" stroke="#5a5a5a" stroke-width="0.75"/>
<line x1="437.90" y1="101.31" x2="440.70" y2="101.31" stroke="#5a5a5a" stroke-width="0.75"/>
<line x1="439.30" y1="104.23" x2="439.30" y2="115.75" stroke="#5a5a5a" stroke-width="0.75"/>
<line x1="437.90" y1="104.23" x2="440.70" y2="104.23" stroke="#5a5a5a" stroke-width="0.75"/>
<line x1="437.90" y1="115.75" x2="440.70" y2="115.75" stroke="#5a5a5a" stroke-width="0.75"/>
<line x1="456.30" y1="87.55" x2="456.30" y2="99.59" stroke="#5a5a5a" stroke-width="0.75"/>
<line x1="454.90" y1="87.55" x2="457.70" y2="87.55" stroke="#5a5a5a" stroke-width="0.75"/>
<line x1="454.90" y1="99.59" x2="457.70" y2="99.59" stroke="#5a5a5a" stroke-width="0.75"/>
<line x1="456.30" y1="84.79" x2="456.30" y2="100.27" stroke="#5a5a5a" stroke-width="0.75"/>
<line x1="454.90" y1="84.79" x2="457.70" y2="84.79" stroke="#5a5a5a" stroke-width="0.75"/>
<line x1="454.90" y1="100.27" x2="457.70" y2="100.27" stroke="#5a5a5a" stroke-width="0.75"/>
<line x1="456.30" y1="106.21" x2="456.30" y2="114.81" stroke="#5a5a5a" stroke-width="0.75"/>
<line x1="454.90" y1="106.21" x2="457.70" y2="106.21" stroke="#5a5a5a" stroke-width="0.75"/>
<line x1="454.90" y1="114.81" x2="457.70" y2="114.81" stroke="#5a5a5a" stroke-width="0.75"/>
<polyline points="371.30,85.22 388.30,95.29 405.30,100.96 422.30,104.32 439.30,109.99 456.30,110.51" fill="none" stroke="#6cc070" stroke-width="0.9" stroke-linejoin="round"/>
<polyline points="371.30,68.97 388.30,79.03 405.30,85.22 422.30,89.70 439.30,93.57 456.30,92.53" fill="none" stroke="#6cc6dc" stroke-width="0.9" stroke-linejoin="round"/>
<polyline points="371.30,72.84 388.30,80.41 405.30,86.86 422.30,91.07 439.30,95.29 456.30,93.57" fill="none" stroke="#d42a52" stroke-width="1.0" stroke-linejoin="round"/>
<rect x="370.40" y="84.32" width="1.8" height="1.8" fill="#3d8a42"/>
<rect x="387.40" y="94.39" width="1.8" height="1.8" fill="#3d8a42"/>
<rect x="404.40" y="100.06" width="1.8" height="1.8" fill="#3d8a42"/>
<rect x="421.40" y="103.42" width="1.8" height="1.8" fill="#3d8a42"/>
<rect x="438.40" y="109.09" width="1.8" height="1.8" fill="#3d8a42"/>
<rect x="455.40" y="109.61" width="1.8" height="1.8" fill="#3d8a42"/>
<rect x="370.40" y="68.07" width="1.8" height="1.8" fill="#2f7f93"/>
<rect x="387.40" y="78.13" width="1.8" height="1.8" fill="#2f7f93"/>
<rect x="404.40" y="84.32" width="1.8" height="1.8" fill="#2f7f93"/>
<rect x="421.40" y="88.80" width="1.8" height="1.8" fill="#2f7f93"/>
<rect x="438.40" y="92.67" width="1.8" height="1.8" fill="#2f7f93"/>
<rect x="455.40" y="91.63" width="1.8" height="1.8" fill="#2f7f93"/>
<rect x="369.90" y="71.44" width="2.8" height="2.8" fill="#8e1538"/>
<rect x="386.90" y="79.01" width="2.8" height="2.8" fill="#8e1538"/>
<rect x="403.90" y="85.46" width="2.8" height="2.8" fill="#8e1538"/>
<rect x="420.90" y="89.67" width="2.8" height="2.8" fill="#8e1538"/>
<rect x="437.90" y="93.89" width="2.8" height="2.8" fill="#8e1538"/>
<rect x="454.90" y="92.17" width="2.8" height="2.8" fill="#8e1538"/>
<line x1="463.30" y1="91.80" x2="463.30" y2="108.60" stroke="#9ad6ea" stroke-width="1.0"/>
<line x1="472.30" y1="92.20" x2="472.30" y2="109.30" stroke="#e68aa2" stroke-width="1.0"/>
<rect x="467.00" y="95.72" width="1.6" height="1.6" fill="#8fc6d8"/>
<rect x="467.00" y="98.17" width="1.6" height="1.6" fill="#8fc6d8"/>
<rect x="467.00" y="100.62" width="1.6" height="1.6" fill="#8fc6d8"/>
<rect x="467.00" y="103.08" width="1.6" height="1.6" fill="#8fc6d8"/>
<rect x="475.80" y="95.72" width="1.6" height="1.6" fill="#d05a7c"/>
<rect x="475.80" y="98.17" width="1.6" height="1.6" fill="#d05a7c"/>
<rect x="475.80" y="100.62" width="1.6" height="1.6" fill="#d05a7c"/>
<rect x="475.80" y="103.08" width="1.6" height="1.6" fill="#d05a7c"/>
<line x1="34.80" y1="303.10" x2="34.80" y2="189.70" stroke="#111" stroke-width="1.2"/>
<line x1="32.40" y1="303.10" x2="34.80" y2="303.10" stroke="#111" stroke-width="0.9"/>
<text x="28.70" y="305.20" font-size="6.1" text-anchor="end" fill="#3a3a3a" stroke="#3a3a3a" stroke-width="0.15">0</text>
<line x1="32.40" y1="275.50" x2="34.80" y2="275.50" stroke="#111" stroke-width="0.9"/>
<text x="28.70" y="277.60" font-size="6.1" text-anchor="end" fill="#3a3a3a" stroke="#3a3a3a" stroke-width="0.15">50</text>
<line x1="32.40" y1="247.90" x2="34.80" y2="247.90" stroke="#111" stroke-width="0.9"/>
<text x="28.70" y="250.00" font-size="6.1" text-anchor="end" fill="#3a3a3a" stroke="#3a3a3a" stroke-width="0.15">100</text>
<line x1="32.40" y1="220.30" x2="34.80" y2="220.30" stroke="#111" stroke-width="0.9"/>
<text x="28.70" y="222.40" font-size="6.1" text-anchor="end" fill="#3a3a3a" stroke="#3a3a3a" stroke-width="0.15">150</text>
<line x1="32.40" y1="192.70" x2="34.80" y2="192.70" stroke="#111" stroke-width="0.9"/>
<text x="28.70" y="194.80" font-size="6.1" text-anchor="end" fill="#3a3a3a" stroke="#3a3a3a" stroke-width="0.15">200</text>
<line x1="34.80" y1="303.10" x2="147.80" y2="303.10" stroke="#111" stroke-width="1.1"/>
<line x1="34.80" y1="303.10" x2="34.80" y2="305.30" stroke="#111" stroke-width="0.9"/>
<text x="34.80" y="314.30" font-size="6.0" text-anchor="middle" fill="#3a3a3a" stroke="#3a3a3a" stroke-width="0.15">0</text>
<line x1="62.30" y1="303.10" x2="62.30" y2="305.30" stroke="#111" stroke-width="0.9"/>
<text x="62.30" y="314.30" font-size="6.0" text-anchor="middle" fill="#3a3a3a" stroke="#3a3a3a" stroke-width="0.15">20</text>
<line x1="89.80" y1="303.10" x2="89.80" y2="305.30" stroke="#111" stroke-width="0.9"/>
<text x="89.80" y="314.30" font-size="6.0" text-anchor="middle" fill="#3a3a3a" stroke="#3a3a3a" stroke-width="0.15">40</text>
<line x1="117.30" y1="303.10" x2="117.30" y2="305.30" stroke="#111" stroke-width="0.9"/>
<text x="117.30" y="314.30" font-size="6.0" text-anchor="middle" fill="#3a3a3a" stroke="#3a3a3a" stroke-width="0.15">60</text>
<line x1="144.80" y1="303.10" x2="144.80" y2="305.30" stroke="#111" stroke-width="0.9"/>
<text x="144.80" y="314.30" font-size="6.0" text-anchor="middle" fill="#3a3a3a" stroke="#3a3a3a" stroke-width="0.15">80</text>
<text x="91.40" y="324.80" font-size="6.3" text-anchor="middle" fill="#1a1a1a" textLength="38" lengthAdjust="spacingAndGlyphs" stroke="#1a1a1a" stroke-width="0.15">Time (minutes)</text>
<text x="91.30" y="184.90" font-size="8.2" text-anchor="middle" fill="#222" stroke="#222" stroke-width="0.05">OCR Data</text>
<text x="11.90" y="245.80" font-size="7" text-anchor="middle" fill="#1a1a1a" textLength="41" lengthAdjust="spacingAndGlyphs" transform="rotate(-90 11.90 245.80)" stroke="#1a1a1a" stroke-width="0.15">OCR (pmol/min)</text>
<line x1="36.45" y1="261.37" x2="36.45" y2="270.20" stroke="#1e1e1e" stroke-width="1.0"/>
<line x1="34.35" y1="261.37" x2="38.55" y2="261.37" stroke="#1e1e1e" stroke-width="1.0"/>
<line x1="34.35" y1="270.20" x2="38.55" y2="270.20" stroke="#1e1e1e" stroke-width="1.0"/>
<line x1="45.39" y1="265.67" x2="45.39" y2="274.29" stroke="#1e1e1e" stroke-width="1.0"/>
<line x1="43.29" y1="265.67" x2="47.49" y2="265.67" stroke="#1e1e1e" stroke-width="1.0"/>
<line x1="43.29" y1="274.29" x2="47.49" y2="274.29" stroke="#1e1e1e" stroke-width="1.0"/>
<line x1="54.32" y1="267.55" x2="54.32" y2="274.84" stroke="#1e1e1e" stroke-width="1.0"/>
<line x1="52.22" y1="267.55" x2="56.42" y2="267.55" stroke="#1e1e1e" stroke-width="1.0"/>
<line x1="52.22" y1="274.84" x2="56.42" y2="274.84" stroke="#1e1e1e" stroke-width="1.0"/>
<line x1="63.26" y1="266.61" x2="63.26" y2="275.22" stroke="#1e1e1e" stroke-width="1.0"/>
<line x1="61.16" y1="266.61" x2="65.36" y2="266.61" stroke="#1e1e1e" stroke-width="1.0"/>
<line x1="61.16" y1="275.22" x2="65.36" y2="275.22" stroke="#1e1e1e" stroke-width="1.0"/>
<line x1="72.20" y1="272.24" x2="72.20" y2="279.53" stroke="#1e1e1e" stroke-width="1.0"/>
<line x1="70.10" y1="272.24" x2="74.30" y2="272.24" stroke="#1e1e1e" stroke-width="1.0"/>
<line x1="70.10" y1="279.53" x2="74.30" y2="279.53" stroke="#1e1e1e" stroke-width="1.0"/>
<line x1="81.14" y1="274.89" x2="81.14" y2="280.96" stroke="#1e1e1e" stroke-width="1.0"/>
<line x1="79.04" y1="274.89" x2="83.24" y2="274.89" stroke="#1e1e1e" stroke-width="1.0"/>
<line x1="79.04" y1="280.96" x2="83.24" y2="280.96" stroke="#1e1e1e" stroke-width="1.0"/>
<line x1="90.08" y1="205.78" x2="90.08" y2="235.59" stroke="#1e1e1e" stroke-width="1.0"/>
<line x1="87.98" y1="205.78" x2="92.17" y2="205.78" stroke="#1e1e1e" stroke-width="1.0"/>
<line x1="87.98" y1="235.59" x2="92.17" y2="235.59" stroke="#1e1e1e" stroke-width="1.0"/>
<line x1="99.01" y1="213.12" x2="99.01" y2="239.62" stroke="#1e1e1e" stroke-width="1.0"/>
<line x1="96.91" y1="213.12" x2="101.11" y2="213.12" stroke="#1e1e1e" stroke-width="1.0"/>
<line x1="96.91" y1="239.62" x2="101.11" y2="239.62" stroke="#1e1e1e" stroke-width="1.0"/>
<line x1="107.95" y1="219.86" x2="107.95" y2="244.15" stroke="#1e1e1e" stroke-width="1.0"/>
<line x1="105.85" y1="219.86" x2="110.05" y2="219.86" stroke="#1e1e1e" stroke-width="1.0"/>
<line x1="105.85" y1="244.15" x2="110.05" y2="244.15" stroke="#1e1e1e" stroke-width="1.0"/>
<line x1="116.89" y1="274.95" x2="116.89" y2="281.57" stroke="#1e1e1e" stroke-width="1.0"/>
<line x1="114.79" y1="274.95" x2="118.99" y2="274.95" stroke="#1e1e1e" stroke-width="1.0"/>
<line x1="114.79" y1="281.57" x2="118.99" y2="281.57" stroke="#1e1e1e" stroke-width="1.0"/>
<line x1="125.83" y1="282.68" x2="125.83" y2="285.99" stroke="#1e1e1e" stroke-width="1.0"/>
<line x1="123.73" y1="282.68" x2="127.92" y2="282.68" stroke="#1e1e1e" stroke-width="1.0"/>
<line x1="123.73" y1="285.99" x2="127.92" y2="285.99" stroke="#1e1e1e" stroke-width="1.0"/>
<line x1="134.76" y1="284.00" x2="134.76" y2="286.21" stroke="#1e1e1e" stroke-width="1.0"/>
<line x1="132.66" y1="284.00" x2="136.86" y2="284.00" stroke="#1e1e1e" stroke-width="1.0"/>
<line x1="132.66" y1="286.21" x2="136.86" y2="286.21" stroke="#1e1e1e" stroke-width="1.0"/>
<line x1="36.45" y1="277.16" x2="36.45" y2="280.47" stroke="#1e1e1e" stroke-width="1.0"/>
<line x1="34.35" y1="277.16" x2="38.55" y2="277.16" stroke="#1e1e1e" stroke-width="1.0"/>
<line x1="34.35" y1="280.47" x2="38.55" y2="280.47" stroke="#1e1e1e" stroke-width="1.0"/>
<line x1="45.39" y1="280.19" x2="45.39" y2="282.40" stroke="#1e1e1e" stroke-width="1.0"/>
<line x1="43.29" y1="280.19" x2="47.49" y2="280.19" stroke="#1e1e1e" stroke-width="1.0"/>
<line x1="43.29" y1="282.40" x2="47.49" y2="282.40" stroke="#1e1e1e" stroke-width="1.0"/>
<line x1="54.32" y1="281.02" x2="54.32" y2="283.23" stroke="#1e1e1e" stroke-width="1.0"/>
<line x1="52.22" y1="281.02" x2="56.42" y2="281.02" stroke="#1e1e1e" stroke-width="1.0"/>
<line x1="52.22" y1="283.23" x2="56.42" y2="283.23" stroke="#1e1e1e" stroke-width="1.0"/>
<line x1="63.26" y1="279.92" x2="63.26" y2="282.12" stroke="#1e1e1e" stroke-width="1.0"/>
<line x1="61.16" y1="279.92" x2="65.36" y2="279.92" stroke="#1e1e1e" stroke-width="1.0"/>
<line x1="61.16" y1="282.12" x2="65.36" y2="282.12" stroke="#1e1e1e" stroke-width="1.0"/>
<line x1="72.20" y1="282.51" x2="72.20" y2="284.72" stroke="#1e1e1e" stroke-width="1.0"/>
<line x1="70.10" y1="282.51" x2="74.30" y2="282.51" stroke="#1e1e1e" stroke-width="1.0"/>
<line x1="70.10" y1="284.72" x2="74.30" y2="284.72" stroke="#1e1e1e" stroke-width="1.0"/>
<line x1="81.14" y1="282.51" x2="81.14" y2="284.72" stroke="#1e1e1e" stroke-width="1.0"/>
<line x1="79.04" y1="282.51" x2="83.24" y2="282.51" stroke="#1e1e1e" stroke-width="1.0"/>
<line x1="79.04" y1="284.72" x2="83.24" y2="284.72" stroke="#1e1e1e" stroke-width="1.0"/>
<line x1="90.08" y1="237.96" x2="90.08" y2="249.00" stroke="#1e1e1e" stroke-width="1.0"/>
<line x1="87.98" y1="237.96" x2="92.17" y2="237.96" stroke="#1e1e1e" stroke-width="1.0"/>
<line x1="87.98" y1="249.00" x2="92.17" y2="249.00" stroke="#1e1e1e" stroke-width="1.0"/>
<line x1="99.01" y1="245.47" x2="99.01" y2="252.10" stroke="#1e1e1e" stroke-width="1.0"/>
<line x1="96.91" y1="245.47" x2="101.11" y2="245.47" stroke="#1e1e1e" stroke-width="1.0"/>
<line x1="96.91" y1="252.10" x2="101.11" y2="252.10" stroke="#1e1e1e" stroke-width="1.0"/>
<line x1="107.95" y1="249.56" x2="107.95" y2="256.18" stroke="#1e1e1e" stroke-width="1.0"/>
<line x1="105.85" y1="249.56" x2="110.05" y2="249.56" stroke="#1e1e1e" stroke-width="1.0"/>
<line x1="105.85" y1="256.18" x2="110.05" y2="256.18" stroke="#1e1e1e" stroke-width="1.0"/>
<line x1="116.89" y1="285.22" x2="116.89" y2="287.42" stroke="#1e1e1e" stroke-width="1.0"/>
<line x1="114.79" y1="285.22" x2="118.99" y2="285.22" stroke="#1e1e1e" stroke-width="1.0"/>
<line x1="114.79" y1="287.42" x2="118.99" y2="287.42" stroke="#1e1e1e" stroke-width="1.0"/>
<line x1="125.83" y1="287.42" x2="125.83" y2="289.63" stroke="#1e1e1e" stroke-width="1.0"/>
<line x1="123.73" y1="287.42" x2="127.92" y2="287.42" stroke="#1e1e1e" stroke-width="1.0"/>
<line x1="123.73" y1="289.63" x2="127.92" y2="289.63" stroke="#1e1e1e" stroke-width="1.0"/>
<line x1="134.76" y1="287.42" x2="134.76" y2="289.63" stroke="#1e1e1e" stroke-width="1.0"/>
<line x1="132.66" y1="287.42" x2="136.86" y2="287.42" stroke="#1e1e1e" stroke-width="1.0"/>
<line x1="132.66" y1="289.63" x2="136.86" y2="289.63" stroke="#1e1e1e" stroke-width="1.0"/>
<polyline points="36.45,265.78 45.39,269.98 54.32,271.19 63.26,270.92 72.20,275.89 81.14,277.93 90.08,220.69 99.01,226.37 107.95,232.00 116.89,278.26 125.83,284.33 134.76,285.10" fill="none" stroke="#3db4d8" stroke-width="1.0" stroke-linejoin="round"/>
<polygon points="36.45,264.12 38.30,267.45 34.60,267.45" fill="#3db4d8"/>
<polygon points="45.39,268.31 47.24,271.65 43.54,271.65" fill="#3db4d8"/>
<polygon points="54.32,269.53 56.17,272.86 52.47,272.86" fill="#3db4d8"/>
<polygon points="63.26,269.25 65.11,272.58 61.41,272.58" fill="#3db4d8"/>
<polygon points="72.20,274.22 74.05,277.55 70.35,277.55" fill="#3db4d8"/>
<polygon points="81.14,276.26 82.99,279.59 79.29,279.59" fill="#3db4d8"/>
<polygon points="90.08,219.02 91.92,222.35 88.23,222.35" fill="#3db4d8"/>
<polygon points="99.01,224.71 100.86,228.04 97.16,228.04" fill="#3db4d8"/>
<polygon points="107.95,230.34 109.80,233.67 106.10,233.67" fill="#3db4d8"/>
<polygon points="116.89,276.59 118.74,279.93 115.04,279.93" fill="#3db4d8"/>
<polygon points="125.83,282.67 127.67,286.00 123.98,286.00" fill="#3db4d8"/>
<polygon points="134.76,283.44 136.61,286.77 132.91,286.77" fill="#3db4d8"/>
<polyline points="36.45,278.81 45.39,281.30 54.32,282.12 63.26,281.02 72.20,283.61 81.14,283.61 90.08,243.48 99.01,248.78 107.95,252.87 116.89,286.32 125.83,288.53 134.76,288.53" fill="none" stroke="#c8102e" stroke-width="1.0" stroke-linejoin="round"/>
<rect x="34.50" y="276.86" width="3.9" height="3.9" fill="#c8102e"/>
<rect x="43.44" y="279.35" width="3.9" height="3.9" fill="#c8102e"/>
<rect x="52.37" y="280.17" width="3.9" height="3.9" fill="#c8102e"/>
<rect x="61.31" y="279.07" width="3.9" height="3.9" fill="#c8102e"/>
<rect x="70.25" y="281.66" width="3.9" height="3.9" fill="#c8102e"/>
<rect x="79.19" y="281.66" width="3.9" height="3.9" fill="#c8102e"/>
<rect x="88.12" y="241.53" width="3.9" height="3.9" fill="#c8102e"/>
<rect x="97.06" y="246.83" width="3.9" height="3.9" fill="#c8102e"/>
<rect x="106.00" y="250.92" width="3.9" height="3.9" fill="#c8102e"/>
<rect x="114.94" y="284.37" width="3.9" height="3.9" fill="#c8102e"/>
<rect x="123.88" y="286.58" width="3.9" height="3.9" fill="#c8102e"/>
<rect x="132.81" y="286.58" width="3.9" height="3.9" fill="#c8102e"/>
<polyline points="36.45,290.96 45.39,292.06 54.32,292.61 63.26,292.06 72.20,293.27 81.14,293.27 90.08,279.70 99.01,283.61 107.95,284.77 116.89,295.48 125.83,295.48 134.76,295.65" fill="none" stroke="#3aa83a" stroke-width="1.0" stroke-linejoin="round"/>
<circle cx="36.45" cy="290.96" r="1.95" fill="#3aa83a"/>
<circle cx="45.39" cy="292.06" r="1.95" fill="#3aa83a"/>
<circle cx="54.32" cy="292.61" r="1.95" fill="#3aa83a"/>
<circle cx="63.26" cy="292.06" r="1.95" fill="#3aa83a"/>
<circle cx="72.20" cy="293.27" r="1.95" fill="#3aa83a"/>
<circle cx="81.14" cy="293.27" r="1.95" fill="#3aa83a"/>
<circle cx="90.08" cy="279.70" r="1.95" fill="#3aa83a"/>
<circle cx="99.01" cy="283.61" r="1.95" fill="#3aa83a"/>
<circle cx="107.95" cy="284.77" r="1.95" fill="#3aa83a"/>
<circle cx="116.89" cy="295.48" r="1.95" fill="#3aa83a"/>
<circle cx="125.83" cy="295.48" r="1.95" fill="#3aa83a"/>
<circle cx="134.76" cy="295.65" r="1.95" fill="#3aa83a"/>
<line x1="185.30" y1="303.10" x2="185.30" y2="190.10" stroke="#111" stroke-width="1.2"/>
<line x1="182.90" y1="303.10" x2="185.30" y2="303.10" stroke="#111" stroke-width="0.9"/>
<text x="179.20" y="305.20" font-size="6.1" text-anchor="end" fill="#3a3a3a" stroke="#3a3a3a" stroke-width="0.15">0</text>
<line x1="182.90" y1="281.10" x2="185.30" y2="281.10" stroke="#111" stroke-width="0.9"/>
<text x="179.20" y="283.20" font-size="6.1" text-anchor="end" fill="#3a3a3a" stroke="#3a3a3a" stroke-width="0.15">50</text>
<line x1="182.90" y1="259.10" x2="185.30" y2="259.10" stroke="#111" stroke-width="0.9"/>
<text x="179.20" y="261.20" font-size="6.1" text-anchor="end" fill="#3a3a3a" stroke="#3a3a3a" stroke-width="0.15">100</text>
<line x1="182.90" y1="237.10" x2="185.30" y2="237.10" stroke="#111" stroke-width="0.9"/>
<text x="179.20" y="239.20" font-size="6.1" text-anchor="end" fill="#3a3a3a" stroke="#3a3a3a" stroke-width="0.15">150</text>
<line x1="182.90" y1="215.10" x2="185.30" y2="215.10" stroke="#111" stroke-width="0.9"/>
<text x="179.20" y="217.20" font-size="6.1" text-anchor="end" fill="#3a3a3a" stroke="#3a3a3a" stroke-width="0.15">200</text>
<line x1="182.90" y1="193.10" x2="185.30" y2="193.10" stroke="#111" stroke-width="0.9"/>
<text x="179.20" y="195.20" font-size="6.1" text-anchor="end" fill="#3a3a3a" stroke="#3a3a3a" stroke-width="0.15">250</text>
<line x1="185.30" y1="303.10" x2="298.30" y2="303.10" stroke="#111" stroke-width="1.1"/>
<line x1="185.30" y1="303.10" x2="185.30" y2="305.30" stroke="#111" stroke-width="0.9"/>
<text x="185.30" y="314.30" font-size="6.0" text-anchor="middle" fill="#3a3a3a" stroke="#3a3a3a" stroke-width="0.15">0</text>
<line x1="212.80" y1="303.10" x2="212.80" y2="305.30" stroke="#111" stroke-width="0.9"/>
<text x="212.80" y="314.30" font-size="6.0" text-anchor="middle" fill="#3a3a3a" stroke="#3a3a3a" stroke-width="0.15">20</text>
<line x1="240.30" y1="303.10" x2="240.30" y2="305.30" stroke="#111" stroke-width="0.9"/>
<text x="240.30" y="314.30" font-size="6.0" text-anchor="middle" fill="#3a3a3a" stroke="#3a3a3a" stroke-width="0.15">40</text>
<line x1="267.80" y1="303.10" x2="267.80" y2="305.30" stroke="#111" stroke-width="0.9"/>
<text x="267.80" y="314.30" font-size="6.0" text-anchor="middle" fill="#3a3a3a" stroke="#3a3a3a" stroke-width="0.15">60</text>
<line x1="295.30" y1="303.10" x2="295.30" y2="305.30" stroke="#111" stroke-width="0.9"/>
<text x="295.30" y="314.30" font-size="6.0" text-anchor="middle" fill="#3a3a3a" stroke="#3a3a3a" stroke-width="0.15">80</text>
<text x="241.90" y="324.80" font-size="6.3" text-anchor="middle" fill="#1a1a1a" textLength="38" lengthAdjust="spacingAndGlyphs" stroke="#1a1a1a" stroke-width="0.15">Time (minutes)</text>
<text x="242.20" y="184.90" font-size="8.2" text-anchor="middle" fill="#222" stroke="#222" stroke-width="0.05">ECAR Data</text>
<text x="162.80" y="247.00" font-size="7" text-anchor="middle" fill="#1a1a1a" textLength="41.5" lengthAdjust="spacingAndGlyphs" transform="rotate(-90 162.80 247.00)" stroke="#1a1a1a" stroke-width="0.15">ECAR (mpH/min)</text>
<line x1="186.95" y1="285.94" x2="186.95" y2="296.50" stroke="#1e1e1e" stroke-width="1.0"/>
<line x1="184.85" y1="285.94" x2="189.05" y2="285.94" stroke="#1e1e1e" stroke-width="1.0"/>
<line x1="184.85" y1="296.50" x2="189.05" y2="296.50" stroke="#1e1e1e" stroke-width="1.0"/>
<line x1="195.89" y1="287.04" x2="195.89" y2="295.84" stroke="#1e1e1e" stroke-width="1.0"/>
<line x1="193.79" y1="287.04" x2="197.99" y2="287.04" stroke="#1e1e1e" stroke-width="1.0"/>
<line x1="193.79" y1="295.84" x2="197.99" y2="295.84" stroke="#1e1e1e" stroke-width="1.0"/>
<line x1="204.83" y1="287.26" x2="204.83" y2="296.06" stroke="#1e1e1e" stroke-width="1.0"/>
<line x1="202.73" y1="287.26" x2="206.93" y2="287.26" stroke="#1e1e1e" stroke-width="1.0"/>
<line x1="202.73" y1="296.06" x2="206.93" y2="296.06" stroke="#1e1e1e" stroke-width="1.0"/>
<line x1="213.76" y1="236.84" x2="213.76" y2="256.20" stroke="#1e1e1e" stroke-width="1.0"/>
<line x1="211.66" y1="236.84" x2="215.86" y2="236.84" stroke="#1e1e1e" stroke-width="1.0"/>
<line x1="211.66" y1="256.20" x2="215.86" y2="256.20" stroke="#1e1e1e" stroke-width="1.0"/>
<line x1="222.70" y1="234.24" x2="222.70" y2="253.60" stroke="#1e1e1e" stroke-width="1.0"/>
<line x1="220.60" y1="234.24" x2="224.80" y2="234.24" stroke="#1e1e1e" stroke-width="1.0"/>
<line x1="220.60" y1="253.60" x2="224.80" y2="253.60" stroke="#1e1e1e" stroke-width="1.0"/>
<line x1="231.64" y1="231.82" x2="231.64" y2="251.18" stroke="#1e1e1e" stroke-width="1.0"/>
<line x1="229.54" y1="231.82" x2="233.74" y2="231.82" stroke="#1e1e1e" stroke-width="1.0"/>
<line x1="229.54" y1="251.18" x2="233.74" y2="251.18" stroke="#1e1e1e" stroke-width="1.0"/>
<line x1="240.58" y1="222.71" x2="240.58" y2="242.07" stroke="#1e1e1e" stroke-width="1.0"/>
<line x1="238.48" y1="222.71" x2="242.68" y2="222.71" stroke="#1e1e1e" stroke-width="1.0"/>
<line x1="238.48" y1="242.07" x2="242.68" y2="242.07" stroke="#1e1e1e" stroke-width="1.0"/>
<line x1="249.51" y1="222.71" x2="249.51" y2="242.07" stroke="#1e1e1e" stroke-width="1.0"/>
<line x1="247.41" y1="222.71" x2="251.61" y2="222.71" stroke="#1e1e1e" stroke-width="1.0"/>
<line x1="247.41" y1="242.07" x2="251.61" y2="242.07" stroke="#1e1e1e" stroke-width="1.0"/>
<line x1="258.45" y1="222.14" x2="258.45" y2="241.50" stroke="#1e1e1e" stroke-width="1.0"/>
<line x1="256.35" y1="222.14" x2="260.55" y2="222.14" stroke="#1e1e1e" stroke-width="1.0"/>
<line x1="256.35" y1="241.50" x2="260.55" y2="241.50" stroke="#1e1e1e" stroke-width="1.0"/>
<line x1="267.39" y1="280.22" x2="267.39" y2="285.50" stroke="#1e1e1e" stroke-width="1.0"/>
<line x1="265.29" y1="280.22" x2="269.49" y2="280.22" stroke="#1e1e1e" stroke-width="1.0"/>
<line x1="265.29" y1="285.50" x2="269.49" y2="285.50" stroke="#1e1e1e" stroke-width="1.0"/>
<line x1="276.33" y1="286.82" x2="276.33" y2="291.22" stroke="#1e1e1e" stroke-width="1.0"/>
<line x1="274.23" y1="286.82" x2="278.43" y2="286.82" stroke="#1e1e1e" stroke-width="1.0"/>
<line x1="274.23" y1="291.22" x2="278.43" y2="291.22" stroke="#1e1e1e" stroke-width="1.0"/>
<line x1="285.26" y1="289.02" x2="285.26" y2="292.54" stroke="#1e1e1e" stroke-width="1.0"/>
<line x1="283.16" y1="289.02" x2="287.36" y2="289.02" stroke="#1e1e1e" stroke-width="1.0"/>
<line x1="283.16" y1="292.54" x2="287.36" y2="292.54" stroke="#1e1e1e" stroke-width="1.0"/>
<line x1="186.95" y1="279.34" x2="186.95" y2="291.66" stroke="#1e1e1e" stroke-width="1.0"/>
<line x1="184.85" y1="279.34" x2="189.05" y2="279.34" stroke="#1e1e1e" stroke-width="1.0"/>
<line x1="184.85" y1="291.66" x2="189.05" y2="291.66" stroke="#1e1e1e" stroke-width="1.0"/>
<line x1="195.89" y1="280.22" x2="195.89" y2="290.78" stroke="#1e1e1e" stroke-width="1.0"/>
<line x1="193.79" y1="280.22" x2="197.99" y2="280.22" stroke="#1e1e1e" stroke-width="1.0"/>
<line x1="193.79" y1="290.78" x2="197.99" y2="290.78" stroke="#1e1e1e" stroke-width="1.0"/>
<line x1="204.83" y1="281.58" x2="204.83" y2="290.38" stroke="#1e1e1e" stroke-width="1.0"/>
<line x1="202.73" y1="281.58" x2="206.93" y2="281.58" stroke="#1e1e1e" stroke-width="1.0"/>
<line x1="202.73" y1="290.38" x2="206.93" y2="290.38" stroke="#1e1e1e" stroke-width="1.0"/>
<line x1="213.76" y1="229.18" x2="213.76" y2="252.06" stroke="#1e1e1e" stroke-width="1.0"/>
<line x1="211.66" y1="229.18" x2="215.86" y2="229.18" stroke="#1e1e1e" stroke-width="1.0"/>
<line x1="211.66" y1="252.06" x2="215.86" y2="252.06" stroke="#1e1e1e" stroke-width="1.0"/>
<line x1="222.70" y1="229.18" x2="222.70" y2="248.54" stroke="#1e1e1e" stroke-width="1.0"/>
<line x1="220.60" y1="229.18" x2="224.80" y2="229.18" stroke="#1e1e1e" stroke-width="1.0"/>
<line x1="220.60" y1="248.54" x2="224.80" y2="248.54" stroke="#1e1e1e" stroke-width="1.0"/>
<line x1="231.64" y1="228.30" x2="231.64" y2="247.66" stroke="#1e1e1e" stroke-width="1.0"/>
<line x1="229.54" y1="228.30" x2="233.74" y2="228.30" stroke="#1e1e1e" stroke-width="1.0"/>
<line x1="229.54" y1="247.66" x2="233.74" y2="247.66" stroke="#1e1e1e" stroke-width="1.0"/>
<line x1="240.58" y1="220.82" x2="240.58" y2="239.30" stroke="#1e1e1e" stroke-width="1.0"/>
<line x1="238.48" y1="220.82" x2="242.68" y2="220.82" stroke="#1e1e1e" stroke-width="1.0"/>
<line x1="238.48" y1="239.30" x2="242.68" y2="239.30" stroke="#1e1e1e" stroke-width="1.0"/>
<line x1="249.51" y1="221.70" x2="249.51" y2="237.54" stroke="#1e1e1e" stroke-width="1.0"/>
<line x1="247.41" y1="221.70" x2="251.61" y2="221.70" stroke="#1e1e1e" stroke-width="1.0"/>
<line x1="247.41" y1="237.54" x2="251.61" y2="237.54" stroke="#1e1e1e" stroke-width="1.0"/>
<line x1="258.45" y1="218.62" x2="258.45" y2="237.98" stroke="#1e1e1e" stroke-width="1.0"/>
<line x1="256.35" y1="218.62" x2="260.55" y2="218.62" stroke="#1e1e1e" stroke-width="1.0"/>
<line x1="256.35" y1="237.98" x2="260.55" y2="237.98" stroke="#1e1e1e" stroke-width="1.0"/>
<line x1="267.39" y1="277.67" x2="267.39" y2="284.71" stroke="#1e1e1e" stroke-width="1.0"/>
<line x1="265.29" y1="277.67" x2="269.49" y2="277.67" stroke="#1e1e1e" stroke-width="1.0"/>
<line x1="265.29" y1="284.71" x2="269.49" y2="284.71" stroke="#1e1e1e" stroke-width="1.0"/>
<line x1="276.33" y1="285.76" x2="276.33" y2="291.04" stroke="#1e1e1e" stroke-width="1.0"/>
<line x1="274.23" y1="285.76" x2="278.43" y2="285.76" stroke="#1e1e1e" stroke-width="1.0"/>
<line x1="274.23" y1="291.04" x2="278.43" y2="291.04" stroke="#1e1e1e" stroke-width="1.0"/>
<line x1="285.26" y1="287.92" x2="285.26" y2="292.32" stroke="#1e1e1e" stroke-width="1.0"/>
<line x1="283.16" y1="287.92" x2="287.36" y2="287.92" stroke="#1e1e1e" stroke-width="1.0"/>
<line x1="283.16" y1="292.32" x2="287.36" y2="292.32" stroke="#1e1e1e" stroke-width="1.0"/>
<line x1="186.95" y1="289.94" x2="186.95" y2="295.22" stroke="#1e1e1e" stroke-width="1.0"/>
<line x1="184.85" y1="289.94" x2="189.05" y2="289.94" stroke="#1e1e1e" stroke-width="1.0"/>
<line x1="184.85" y1="295.22" x2="189.05" y2="295.22" stroke="#1e1e1e" stroke-width="1.0"/>
<line x1="195.89" y1="290.78" x2="195.89" y2="295.18" stroke="#1e1e1e" stroke-width="1.0"/>
<line x1="193.79" y1="290.78" x2="197.99" y2="290.78" stroke="#1e1e1e" stroke-width="1.0"/>
<line x1="193.79" y1="295.18" x2="197.99" y2="295.18" stroke="#1e1e1e" stroke-width="1.0"/>
<line x1="204.83" y1="291.09" x2="204.83" y2="295.49" stroke="#1e1e1e" stroke-width="1.0"/>
<line x1="202.73" y1="291.09" x2="206.93" y2="291.09" stroke="#1e1e1e" stroke-width="1.0"/>
<line x1="202.73" y1="295.49" x2="206.93" y2="295.49" stroke="#1e1e1e" stroke-width="1.0"/>
<line x1="213.76" y1="259.10" x2="213.76" y2="272.30" stroke="#1e1e1e" stroke-width="1.0"/>
<line x1="211.66" y1="259.10" x2="215.86" y2="259.10" stroke="#1e1e1e" stroke-width="1.0"/>
<line x1="211.66" y1="272.30" x2="215.86" y2="272.30" stroke="#1e1e1e" stroke-width="1.0"/>
<line x1="222.70" y1="253.82" x2="222.70" y2="271.42" stroke="#1e1e1e" stroke-width="1.0"/>
<line x1="220.60" y1="253.82" x2="224.80" y2="253.82" stroke="#1e1e1e" stroke-width="1.0"/>
<line x1="220.60" y1="271.42" x2="224.80" y2="271.42" stroke="#1e1e1e" stroke-width="1.0"/>
<line x1="231.64" y1="252.15" x2="231.64" y2="269.75" stroke="#1e1e1e" stroke-width="1.0"/>
<line x1="229.54" y1="252.15" x2="233.74" y2="252.15" stroke="#1e1e1e" stroke-width="1.0"/>
<line x1="229.54" y1="269.75" x2="233.74" y2="269.75" stroke="#1e1e1e" stroke-width="1.0"/>
<line x1="240.58" y1="245.02" x2="240.58" y2="264.38" stroke="#1e1e1e" stroke-width="1.0"/>
<line x1="238.48" y1="245.02" x2="242.68" y2="245.02" stroke="#1e1e1e" stroke-width="1.0"/>
<line x1="238.48" y1="264.38" x2="242.68" y2="264.38" stroke="#1e1e1e" stroke-width="1.0"/>
<line x1="249.51" y1="245.02" x2="249.51" y2="264.38" stroke="#1e1e1e" stroke-width="1.0"/>
<line x1="247.41" y1="245.02" x2="251.61" y2="245.02" stroke="#1e1e1e" stroke-width="1.0"/>
<line x1="247.41" y1="264.38" x2="251.61" y2="264.38" stroke="#1e1e1e" stroke-width="1.0"/>
<line x1="258.45" y1="244.80" x2="258.45" y2="260.20" stroke="#1e1e1e" stroke-width="1.0"/>
<line x1="256.35" y1="244.80" x2="260.55" y2="244.80" stroke="#1e1e1e" stroke-width="1.0"/>
<line x1="256.35" y1="260.20" x2="260.55" y2="260.20" stroke="#1e1e1e" stroke-width="1.0"/>
<line x1="267.39" y1="288.32" x2="267.39" y2="292.72" stroke="#1e1e1e" stroke-width="1.0"/>
<line x1="265.29" y1="288.32" x2="269.49" y2="288.32" stroke="#1e1e1e" stroke-width="1.0"/>
<line x1="265.29" y1="292.72" x2="269.49" y2="292.72" stroke="#1e1e1e" stroke-width="1.0"/>
<line x1="276.33" y1="293.42" x2="276.33" y2="296.94" stroke="#1e1e1e" stroke-width="1.0"/>
<line x1="274.23" y1="293.42" x2="278.43" y2="293.42" stroke="#1e1e1e" stroke-width="1.0"/>
<line x1="274.23" y1="296.94" x2="278.43" y2="296.94" stroke="#1e1e1e" stroke-width="1.0"/>
<line x1="285.26" y1="294.56" x2="285.26" y2="297.20" stroke="#1e1e1e" stroke-width="1.0"/>
<line x1="283.16" y1="294.56" x2="287.36" y2="294.56" stroke="#1e1e1e" stroke-width="1.0"/>
<line x1="283.16" y1="297.20" x2="287.36" y2="297.20" stroke="#1e1e1e" stroke-width="1.0"/>
<polyline points="186.95,291.22 195.89,291.44 204.83,291.66 213.76,246.52 222.70,243.92 231.64,241.50 240.58,232.39 249.51,232.39 258.45,231.82 267.39,282.86 276.33,289.02 285.26,290.78" fill="none" stroke="#3db4d8" stroke-width="1.0" stroke-linejoin="round"/>
<polygon points="186.95,289.56 188.80,292.89 185.10,292.89" fill="#3db4d8"/>
<polygon points="195.89,289.77 197.74,293.11 194.04,293.11" fill="#3db4d8"/>
<polygon points="204.83,290.00 206.68,293.33 202.98,293.33" fill="#3db4d8"/>
<polygon points="213.76,244.85 215.61,248.18 211.91,248.18" fill="#3db4d8"/>
<polygon points="222.70,242.26 224.55,245.59 220.85,245.59" fill="#3db4d8"/>
<polygon points="231.64,239.84 233.49,243.17 229.79,243.17" fill="#3db4d8"/>
<polygon points="240.58,230.73 242.43,234.06 238.73,234.06" fill="#3db4d8"/>
<polygon points="249.51,230.73 251.36,234.06 247.66,234.06" fill="#3db4d8"/>
<polygon points="258.45,230.16 260.30,233.49 256.60,233.49" fill="#3db4d8"/>
<polygon points="267.39,281.19 269.24,284.53 265.54,284.53" fill="#3db4d8"/>
<polygon points="276.33,287.36 278.18,290.69 274.48,290.69" fill="#3db4d8"/>
<polygon points="285.26,289.12 287.11,292.45 283.41,292.45" fill="#3db4d8"/>
<polyline points="186.95,285.50 195.89,285.50 204.83,285.98 213.76,240.62 222.70,238.86 231.64,237.98 240.58,230.06 249.51,229.62 258.45,228.30 267.39,281.19 276.33,288.40 285.26,290.12" fill="none" stroke="#c8102e" stroke-width="1.0" stroke-linejoin="round"/>
<rect x="185.00" y="283.55" width="3.9" height="3.9" fill="#c8102e"/>
<rect x="193.94" y="283.55" width="3.9" height="3.9" fill="#c8102e"/>
<rect x="202.88" y="284.03" width="3.9" height="3.9" fill="#c8102e"/>
<rect x="211.81" y="238.67" width="3.9" height="3.9" fill="#c8102e"/>
<rect x="220.75" y="236.91" width="3.9" height="3.9" fill="#c8102e"/>
<rect x="229.69" y="236.03" width="3.9" height="3.9" fill="#c8102e"/>
<rect x="238.63" y="228.11" width="3.9" height="3.9" fill="#c8102e"/>
<rect x="247.56" y="227.67" width="3.9" height="3.9" fill="#c8102e"/>
<rect x="256.50" y="226.35" width="3.9" height="3.9" fill="#c8102e"/>
<rect x="265.44" y="279.24" width="3.9" height="3.9" fill="#c8102e"/>
<rect x="274.38" y="286.45" width="3.9" height="3.9" fill="#c8102e"/>
<rect x="283.31" y="288.17" width="3.9" height="3.9" fill="#c8102e"/>
<polyline points="186.95,292.58 195.89,292.98 204.83,293.29 213.76,265.70 222.70,262.62 231.64,260.95 240.58,254.70 249.51,254.70 258.45,252.50 267.39,290.52 276.33,295.18 285.26,295.88" fill="none" stroke="#3aa83a" stroke-width="1.0" stroke-linejoin="round"/>
<circle cx="186.95" cy="292.58" r="1.95" fill="#3aa83a"/>
<circle cx="195.89" cy="292.98" r="1.95" fill="#3aa83a"/>
<circle cx="204.83" cy="293.29" r="1.95" fill="#3aa83a"/>
<circle cx="213.76" cy="265.70" r="1.95" fill="#3aa83a"/>
<circle cx="222.70" cy="262.62" r="1.95" fill="#3aa83a"/>
<circle cx="231.64" cy="260.95" r="1.95" fill="#3aa83a"/>
<circle cx="240.58" cy="254.70" r="1.95" fill="#3aa83a"/>
<circle cx="249.51" cy="254.70" r="1.95" fill="#3aa83a"/>
<circle cx="258.45" cy="252.50" r="1.95" fill="#3aa83a"/>
<circle cx="267.39" cy="290.52" r="1.95" fill="#3aa83a"/>
<circle cx="276.33" cy="295.18" r="1.95" fill="#3aa83a"/>
<circle cx="285.26" cy="295.88" r="1.95" fill="#3aa83a"/>
<circle cx="202.30" cy="336.30" r="1.9" fill="#3aa83a"/>
<text x="207.80" y="338.40" font-size="5.9" text-anchor="start" fill="#333" textLength="23" lengthAdjust="spacingAndGlyphs" stroke="#333" stroke-width="0.15">Wildtype</text>
<rect x="237.00" y="334.50" width="3.8" height="3.8" fill="#c8102e"/>
<text x="244.00" y="338.40" font-size="5.9" text-anchor="start" fill="#333" textLength="39.2" lengthAdjust="spacingAndGlyphs" stroke="#333" stroke-width="0.15">CD38-CAR V3</text>
<polygon points="202.50,344.68 204.30,347.92 200.70,347.92" fill="#3db4d8"/>
<text x="208.30" y="348.30" font-size="5.9" text-anchor="start" fill="#333" textLength="59.4" lengthAdjust="spacingAndGlyphs" stroke="#333" stroke-width="0.15">CD38-CAR AAVS1KO</text>
<line x1="335.70" y1="303.00" x2="335.70" y2="190.00" stroke="#111" stroke-width="1.2"/>
<line x1="333.30" y1="303.00" x2="335.70" y2="303.00" stroke="#111" stroke-width="0.9"/>
<text x="329.60" y="305.10" font-size="6.1" text-anchor="end" fill="#3a3a3a" stroke="#3a3a3a" stroke-width="0.15">0</text>
<line x1="333.30" y1="281.00" x2="335.70" y2="281.00" stroke="#111" stroke-width="0.9"/>
<text x="329.60" y="283.10" font-size="6.1" text-anchor="end" fill="#3a3a3a" stroke="#3a3a3a" stroke-width="0.15">50</text>
<line x1="333.30" y1="259.00" x2="335.70" y2="259.00" stroke="#111" stroke-width="0.9"/>
<text x="329.60" y="261.10" font-size="6.1" text-anchor="end" fill="#3a3a3a" stroke="#3a3a3a" stroke-width="0.15">100</text>
<line x1="333.30" y1="237.00" x2="335.70" y2="237.00" stroke="#111" stroke-width="0.9"/>
<text x="329.60" y="239.10" font-size="6.1" text-anchor="end" fill="#3a3a3a" stroke="#3a3a3a" stroke-width="0.15">150</text>
<line x1="333.30" y1="215.00" x2="335.70" y2="215.00" stroke="#111" stroke-width="0.9"/>
<text x="329.60" y="217.10" font-size="6.1" text-anchor="end" fill="#3a3a3a" stroke="#3a3a3a" stroke-width="0.15">200</text>
<line x1="333.30" y1="193.00" x2="335.70" y2="193.00" stroke="#111" stroke-width="0.9"/>
<text x="329.60" y="195.10" font-size="6.1" text-anchor="end" fill="#3a3a3a" stroke="#3a3a3a" stroke-width="0.15">250</text>
<line x1="334.50" y1="295.67" x2="335.70" y2="295.67" stroke="#333" stroke-width="0.6"/>
<line x1="334.50" y1="288.33" x2="335.70" y2="288.33" stroke="#333" stroke-width="0.6"/>
<line x1="334.50" y1="273.67" x2="335.70" y2="273.67" stroke="#333" stroke-width="0.6"/>
<line x1="334.50" y1="266.33" x2="335.70" y2="266.33" stroke="#333" stroke-width="0.6"/>
<line x1="334.50" y1="251.67" x2="335.70" y2="251.67" stroke="#333" stroke-width="0.6"/>
<line x1="334.50" y1="244.33" x2="335.70" y2="244.33" stroke="#333" stroke-width="0.6"/>
<line x1="334.50" y1="229.67" x2="335.70" y2="229.67" stroke="#333" stroke-width="0.6"/>
<line x1="334.50" y1="222.33" x2="335.70" y2="222.33" stroke="#333" stroke-width="0.6"/>
<line x1="334.50" y1="207.67" x2="335.70" y2="207.67" stroke="#333" stroke-width="0.6"/>
<line x1="334.50" y1="200.33" x2="335.70" y2="200.33" stroke="#333" stroke-width="0.6"/>
<rect x="343.50" y="294.50" width="14.50" height="8.50" fill="#a6dba0"/>
<rect x="366.00" y="274.00" width="13.60" height="29.00" fill="#eb9c9a"/>
<rect x="387.80" y="262.80" width="13.50" height="40.20" fill="#b5d8f3"/>
<line x1="335.70" y1="303.10" x2="406.50" y2="303.10" stroke="#111" stroke-width="1.2"/>
<line x1="372.80" y1="303.10" x2="372.80" y2="305.20" stroke="#111" stroke-width="0.8"/>
<line x1="372.60" y1="256.90" x2="372.60" y2="280.00" stroke="#d0203c" stroke-width="1.0"/>
<line x1="369.60" y1="256.90" x2="375.60" y2="256.90" stroke="#d0203c" stroke-width="1.0"/>
<line x1="394.60" y1="231.80" x2="394.60" y2="291.40" stroke="#5ab4e6" stroke-width="1.0"/>
<line x1="391.60" y1="231.80" x2="397.60" y2="231.80" stroke="#5ab4e6" stroke-width="1.0"/>
<line x1="391.80" y1="291.40" x2="397.40" y2="291.40" stroke="#5ab4e6" stroke-width="1.0"/>
<circle cx="345.50" cy="292.20" r="1.65" fill="#2f9a33"/>
<circle cx="347.20" cy="291.50" r="1.65" fill="#2f9a33"/>
<circle cx="349.00" cy="293.20" r="1.65" fill="#2f9a33"/>
<circle cx="351.70" cy="290.80" r="1.65" fill="#2f9a33"/>
<circle cx="353.50" cy="292.20" r="1.65" fill="#2f9a33"/>
<circle cx="356.20" cy="294.80" r="1.65" fill="#2f9a33"/>
<circle cx="346.10" cy="295.50" r="1.65" fill="#2f9a33"/>
<circle cx="350.10" cy="295.50" r="1.65" fill="#2f9a33"/>
<circle cx="353.50" cy="296.90" r="1.65" fill="#2f9a33"/>
<circle cx="348.10" cy="297.60" r="1.65" fill="#2f9a33"/>
<circle cx="355.20" cy="288.40" r="1.65" fill="#2f9a33"/>
<circle cx="352.00" cy="294.00" r="1.65" fill="#2f9a33"/>
<circle cx="357.00" cy="296.00" r="1.65" fill="#2f9a33"/>
<circle cx="344.50" cy="296.50" r="1.65" fill="#2f9a33"/>
<rect x="370.90" y="230.10" width="2.8" height="2.8" fill="#c8102e"/>
<rect x="370.90" y="248.50" width="2.8" height="2.8" fill="#c8102e"/>
<rect x="371.20" y="257.40" width="2.8" height="2.8" fill="#c8102e"/>
<rect x="369.30" y="265.60" width="2.8" height="2.8" fill="#c8102e"/>
<rect x="373.50" y="265.60" width="2.8" height="2.8" fill="#c8102e"/>
<rect x="365.50" y="273.60" width="2.8" height="2.8" fill="#c8102e"/>
<rect x="377.30" y="273.60" width="2.8" height="2.8" fill="#c8102e"/>
<rect x="368.70" y="276.30" width="2.8" height="2.8" fill="#c8102e"/>
<rect x="371.20" y="276.10" width="2.8" height="2.8" fill="#c8102e"/>
<rect x="373.80" y="276.60" width="2.8" height="2.8" fill="#c8102e"/>
<rect x="377.30" y="277.30" width="2.8" height="2.8" fill="#c8102e"/>
<rect x="371.20" y="280.40" width="2.8" height="2.8" fill="#c8102e"/>
<rect x="369.30" y="285.20" width="2.8" height="2.8" fill="#c8102e"/>
<rect x="373.10" y="285.20" width="2.8" height="2.8" fill="#c8102e"/>
<rect x="371.20" y="287.70" width="2.8" height="2.8" fill="#c8102e"/>
<rect x="371.20" y="292.10" width="2.8" height="2.8" fill="#c8102e"/>
<polygon points="394.50,202.44 395.90,204.96 393.10,204.96" fill="#3a9ad8"/>
<polygon points="394.50,212.54 395.90,215.06 393.10,215.06" fill="#3a9ad8"/>
<polygon points="394.50,221.54 395.90,224.06 393.10,224.06" fill="#3a9ad8"/>
<polygon points="394.60,234.24 396.00,236.76 393.20,236.76" fill="#3a9ad8"/>
<polygon points="394.60,266.34 396.00,268.86 393.20,268.86" fill="#3a9ad8"/>
<polygon points="388.70,273.34 390.10,275.86 387.30,275.86" fill="#3a9ad8"/>
<polygon points="392.50,272.74 393.90,275.26 391.10,275.26" fill="#3a9ad8"/>
<polygon points="396.30,273.34 397.70,275.86 394.90,275.86" fill="#3a9ad8"/>
<polygon points="400.70,273.34 402.10,275.86 399.30,275.86" fill="#3a9ad8"/>
<polygon points="393.10,276.44 394.50,278.96 391.70,278.96" fill="#3a9ad8"/>
<polygon points="394.60,280.84 396.00,283.36 393.20,283.36" fill="#3a9ad8"/>
<polygon points="392.50,284.04 393.90,286.56 391.10,286.56" fill="#3a9ad8"/>
<polygon points="388.70,286.84 390.10,289.36 387.30,289.36" fill="#3a9ad8"/>
<polygon points="395.00,286.84 396.40,289.36 393.60,289.36" fill="#3a9ad8"/>
<polygon points="396.90,286.84 398.30,289.36 395.50,289.36" fill="#3a9ad8"/>
<polygon points="400.70,286.84 402.10,289.36 399.30,289.36" fill="#3a9ad8"/>
<text x="372.00" y="170.80" font-size="8.0" text-anchor="middle" fill="#222" textLength="61.5" lengthAdjust="spacingAndGlyphs" stroke="#222" stroke-width="0.05">Spare Respiratory</text>
<text x="373.00" y="180.40" font-size="8.0" text-anchor="middle" fill="#222" textLength="30.2" lengthAdjust="spacingAndGlyphs" stroke="#222" stroke-width="0.05">Capacity</text>
<text x="315.10" y="248.00" font-size="6.5" text-anchor="middle" fill="#1a1a1a" textLength="24" lengthAdjust="spacingAndGlyphs" transform="rotate(-90 315.10 248.00)" stroke="#1a1a1a" stroke-width="0.15">pmol/min</text>
<text x="372.80" y="315.60" font-size="7.5" text-anchor="middle" fill="#1a1a1a" textLength="64.6" lengthAdjust="spacingAndGlyphs" stroke="#1a1a1a" stroke-width="0.15">Spare respiratory capacity</text>
<polyline points="350.60,197.50 350.60,190.70 394.40,190.70 394.40,198.20" fill="none" stroke="#4a4a4a" stroke-width="0.95"/>
<text x="373.00" y="190.00" font-size="6.2" text-anchor="middle" fill="#333" stroke="#333" stroke-width="0.15">***</text>
<polyline points="350.60,284.00 350.60,201.70 373.10,201.70 373.10,226.00" fill="none" stroke="#4a4a4a" stroke-width="0.95"/>
<text x="361.80" y="200.80" font-size="6.2" text-anchor="middle" fill="#333" stroke="#333" stroke-width="0.15">*</text>
<line x1="444.00" y1="303.00" x2="444.00" y2="189.00" stroke="#111" stroke-width="1.2"/>
<line x1="441.60" y1="303.00" x2="444.00" y2="303.00" stroke="#111" stroke-width="0.9"/>
<text x="437.90" y="305.10" font-size="6.1" text-anchor="end" fill="#3a3a3a" stroke="#3a3a3a" stroke-width="0.15">0</text>
<line x1="441.60" y1="284.50" x2="444.00" y2="284.50" stroke="#111" stroke-width="0.9"/>
<text x="437.90" y="286.60" font-size="6.1" text-anchor="end" fill="#3a3a3a" stroke="#3a3a3a" stroke-width="0.15">50</text>
<line x1="441.60" y1="266.00" x2="444.00" y2="266.00" stroke="#111" stroke-width="0.9"/>
<text x="437.90" y="268.10" font-size="6.1" text-anchor="end" fill="#3a3a3a" stroke="#3a3a3a" stroke-width="0.15">100</text>
<line x1="441.60" y1="247.50" x2="444.00" y2="247.50" stroke="#111" stroke-width="0.9"/>
<text x="437.90" y="249.60" font-size="6.1" text-anchor="end" fill="#3a3a3a" stroke="#3a3a3a" stroke-width="0.15">150</text>
<line x1="441.60" y1="229.00" x2="444.00" y2="229.00" stroke="#111" stroke-width="0.9"/>
<text x="437.90" y="231.10" font-size="6.1" text-anchor="end" fill="#3a3a3a" stroke="#3a3a3a" stroke-width="0.15">200</text>
<line x1="441.60" y1="210.50" x2="444.00" y2="210.50" stroke="#111" stroke-width="0.9"/>
<text x="437.90" y="212.60" font-size="6.1" text-anchor="end" fill="#3a3a3a" stroke="#3a3a3a" stroke-width="0.15">250</text>
<line x1="441.60" y1="192.00" x2="444.00" y2="192.00" stroke="#111" stroke-width="0.9"/>
<text x="437.90" y="194.10" font-size="6.1" text-anchor="end" fill="#3a3a3a" stroke="#3a3a3a" stroke-width="0.15">300</text>
<line x1="442.80" y1="296.83" x2="444.00" y2="296.83" stroke="#333" stroke-width="0.6"/>
<line x1="442.80" y1="290.67" x2="444.00" y2="290.67" stroke="#333" stroke-width="0.6"/>
<line x1="442.80" y1="278.33" x2="444.00" y2="278.33" stroke="#333" stroke-width="0.6"/>
<line x1="442.80" y1="272.17" x2="444.00" y2="272.17" stroke="#333" stroke-width="0.6"/>
<line x1="442.80" y1="259.83" x2="444.00" y2="259.83" stroke="#333" stroke-width="0.6"/>
<line x1="442.80" y1="253.67" x2="444.00" y2="253.67" stroke="#333" stroke-width="0.6"/>
<line x1="442.80" y1="241.33" x2="444.00" y2="241.33" stroke="#333" stroke-width="0.6"/>
<line x1="442.80" y1="235.17" x2="444.00" y2="235.17" stroke="#333" stroke-width="0.6"/>
<line x1="442.80" y1="222.83" x2="444.00" y2="222.83" stroke="#333" stroke-width="0.6"/>
<line x1="442.80" y1="216.67" x2="444.00" y2="216.67" stroke="#333" stroke-width="0.6"/>
<line x1="442.80" y1="204.33" x2="444.00" y2="204.33" stroke="#333" stroke-width="0.6"/>
<line x1="442.80" y1="198.17" x2="444.00" y2="198.17" stroke="#333" stroke-width="0.6"/>
<rect x="451.70" y="294.00" width="13.80" height="9.00" fill="#a6dba0"/>
<rect x="474.30" y="273.20" width="13.40" height="29.80" fill="#eb9c9a"/>
<rect x="496.20" y="259.90" width="13.50" height="43.10" fill="#b5d8f3"/>
<line x1="444.00" y1="303.10" x2="512.60" y2="303.10" stroke="#111" stroke-width="1.2"/>
<line x1="481.00" y1="303.10" x2="481.00" y2="305.20" stroke="#111" stroke-width="0.8"/>
<line x1="480.90" y1="258.70" x2="480.90" y2="279.20" stroke="#d0203c" stroke-width="1.0"/>
<line x1="477.90" y1="258.70" x2="483.90" y2="258.70" stroke="#d0203c" stroke-width="1.0"/>
<line x1="503.00" y1="226.50" x2="503.00" y2="290.60" stroke="#5ab4e6" stroke-width="1.0"/>
<line x1="500.00" y1="226.50" x2="506.00" y2="226.50" stroke="#5ab4e6" stroke-width="1.0"/>
<line x1="500.20" y1="290.60" x2="505.80" y2="290.60" stroke="#5ab4e6" stroke-width="1.0"/>
<circle cx="454.60" cy="289.00" r="1.65" fill="#2f9a33"/>
<circle cx="463.00" cy="288.20" r="1.65" fill="#2f9a33"/>
<circle cx="453.10" cy="291.50" r="1.65" fill="#2f9a33"/>
<circle cx="456.40" cy="290.80" r="1.65" fill="#2f9a33"/>
<circle cx="460.00" cy="291.90" r="1.65" fill="#2f9a33"/>
<circle cx="461.90" cy="291.20" r="1.65" fill="#2f9a33"/>
<circle cx="457.50" cy="293.40" r="1.65" fill="#2f9a33"/>
<circle cx="463.40" cy="293.40" r="1.65" fill="#2f9a33"/>
<circle cx="464.80" cy="294.10" r="1.65" fill="#2f9a33"/>
<circle cx="452.40" cy="295.20" r="1.65" fill="#2f9a33"/>
<circle cx="455.30" cy="294.80" r="1.65" fill="#2f9a33"/>
<circle cx="459.00" cy="295.50" r="1.65" fill="#2f9a33"/>
<circle cx="461.90" cy="295.50" r="1.65" fill="#2f9a33"/>
<rect x="479.40" y="237.50" width="2.8" height="2.8" fill="#c8102e"/>
<rect x="479.50" y="251.40" width="2.8" height="2.8" fill="#c8102e"/>
<rect x="476.70" y="259.60" width="2.8" height="2.8" fill="#c8102e"/>
<rect x="480.70" y="258.70" width="2.8" height="2.8" fill="#c8102e"/>
<rect x="480.70" y="266.90" width="2.8" height="2.8" fill="#c8102e"/>
<rect x="477.60" y="269.70" width="2.8" height="2.8" fill="#c8102e"/>
<rect x="477.10" y="274.60" width="2.8" height="2.8" fill="#c8102e"/>
<rect x="480.70" y="274.60" width="2.8" height="2.8" fill="#c8102e"/>
<rect x="472.90" y="278.80" width="2.8" height="2.8" fill="#c8102e"/>
<rect x="477.60" y="278.10" width="2.8" height="2.8" fill="#c8102e"/>
<rect x="480.70" y="281.60" width="2.8" height="2.8" fill="#c8102e"/>
<rect x="477.10" y="282.30" width="2.8" height="2.8" fill="#c8102e"/>
<rect x="484.90" y="282.10" width="2.8" height="2.8" fill="#c8102e"/>
<rect x="481.40" y="284.90" width="2.8" height="2.8" fill="#c8102e"/>
<rect x="479.50" y="288.00" width="2.8" height="2.8" fill="#c8102e"/>
<polygon points="503.10,198.34 504.50,200.86 501.70,200.86" fill="#3a9ad8"/>
<polygon points="503.10,201.14 504.50,203.66 501.70,203.66" fill="#3a9ad8"/>
<polygon points="503.10,218.74 504.50,221.26 501.70,221.26" fill="#3a9ad8"/>
<polygon points="503.00,265.74 504.40,268.26 501.60,268.26" fill="#3a9ad8"/>
<polygon points="496.70,273.84 498.10,276.36 495.30,276.36" fill="#3a9ad8"/>
<polygon points="500.10,274.14 501.50,276.66 498.70,276.66" fill="#3a9ad8"/>
<polygon points="504.60,274.14 506.00,276.66 503.20,276.66" fill="#3a9ad8"/>
<polygon points="508.90,272.44 510.30,274.96 507.50,274.96" fill="#3a9ad8"/>
<polygon points="503.00,278.34 504.40,280.86 501.60,280.86" fill="#3a9ad8"/>
<polygon points="503.00,280.94 504.40,283.46 501.60,283.46" fill="#3a9ad8"/>
<polygon points="498.70,284.64 500.10,287.16 497.30,287.16" fill="#3a9ad8"/>
<polygon points="503.00,283.94 504.40,286.46 501.60,286.46" fill="#3a9ad8"/>
<polygon points="507.20,284.64 508.60,287.16 505.80,287.16" fill="#3a9ad8"/>
<text x="480.60" y="170.80" font-size="8.0" text-anchor="middle" fill="#222" textLength="27.5" lengthAdjust="spacingAndGlyphs" stroke="#222" stroke-width="0.05">Maximal</text>
<text x="481.00" y="180.40" font-size="8.0" text-anchor="middle" fill="#222" textLength="38.3" lengthAdjust="spacingAndGlyphs" stroke="#222" stroke-width="0.05">Respiration</text>
<text x="421.70" y="246.00" font-size="6.5" text-anchor="middle" fill="#1a1a1a" textLength="24" lengthAdjust="spacingAndGlyphs" transform="rotate(-90 421.70 246.00)" stroke="#1a1a1a" stroke-width="0.15">pmol/min</text>
<text x="481.00" y="315.60" font-size="7.5" text-anchor="middle" fill="#1a1a1a" textLength="48.6" lengthAdjust="spacingAndGlyphs" stroke="#1a1a1a" stroke-width="0.15">Maximal respiration</text>
<polyline points="458.60,217.90 458.60,190.60 503.10,190.60 503.10,194.70" fill="none" stroke="#4a4a4a" stroke-width="0.95"/>
<text x="480.60" y="190.00" font-size="6.2" text-anchor="middle" fill="#333" stroke="#333" stroke-width="0.15">***</text>
<polyline points="458.60,283.80 458.60,223.50 481.00,223.50 481.00,235.20" fill="none" stroke="#4a4a4a" stroke-width="0.95"/>
<text x="469.70" y="222.60" font-size="6.2" text-anchor="middle" fill="#333" stroke="#333" stroke-width="0.15">*</text>
<text x="6.70" y="15.90" font-size="10.3" text-anchor="start" fill="#000" font-weight="bold" stroke="#000" stroke-width="0.2">A</text>
<text x="6.70" y="173.30" font-size="10.3" text-anchor="start" fill="#000" font-weight="bold" stroke="#000" stroke-width="0.2">B</text>
<text x="157.60" y="173.50" font-size="10.3" text-anchor="start" fill="#000" font-weight="bold" stroke="#000" stroke-width="0.2">C</text>
<text x="308.40" y="173.50" font-size="10.3" text-anchor="start" fill="#000" font-weight="bold" stroke="#000" stroke-width="0.2">D</text>
<text x="416.80" y="173.50" font-size="10.3" text-anchor="start" fill="#000" font-weight="bold" stroke="#000" stroke-width="0.2">E</text>
<rect x="0.6" y="0.6" width="518.8" height="354.8" fill="none" stroke="#4e4e4e" stroke-width="1.2"/>
</svg></div></body></html>
